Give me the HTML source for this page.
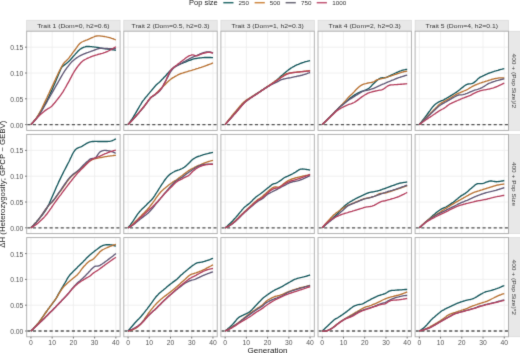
<!DOCTYPE html><html><head><meta charset="utf-8"><style>html,body{margin:0;padding:0;background:#fff;overflow:hidden}svg{display:block}text{font-family:"Liberation Sans", sans-serif}</style></head><body>
<svg width="520" height="353" viewBox="0 0 520 353">
<defs><filter id="bl" x="0" y="0" width="520" height="353" filterUnits="userSpaceOnUse" color-interpolation-filters="sRGB"><feConvolveMatrix order="3" kernelMatrix="1 7 1 7 54 7 1 7 1" divisor="86" edgeMode="duplicate"/></filter></defs><g filter="url(#bl)">
<rect width="520" height="353" fill="#fff"/>
<text x="189.00" y="5.10" font-size="7.49" fill="#1a1a1a" text-anchor="start" textLength="28.80" lengthAdjust="spacingAndGlyphs">Pop size</text>
<line x1="223.3" y1="2.7" x2="233.5" y2="2.7" stroke="#2a6d6d" stroke-width="1.5"/>
<text x="238.60" y="4.90" font-size="5.83" fill="#333" text-anchor="start" textLength="10.50" lengthAdjust="spacingAndGlyphs">250</text>
<line x1="254.6" y1="2.7" x2="264.8" y2="2.7" stroke="#cf8a45" stroke-width="1.5"/>
<text x="269.80" y="4.90" font-size="5.83" fill="#333" text-anchor="start" textLength="10.50" lengthAdjust="spacingAndGlyphs">500</text>
<line x1="285.6" y1="2.7" x2="295.8" y2="2.7" stroke="#6c6a78" stroke-width="1.5"/>
<text x="300.90" y="4.90" font-size="5.83" fill="#333" text-anchor="start" textLength="10.50" lengthAdjust="spacingAndGlyphs">750</text>
<line x1="316.7" y1="2.7" x2="326.9" y2="2.7" stroke="#c25876" stroke-width="1.5"/>
<text x="332.30" y="4.90" font-size="5.83" fill="#333" text-anchor="start" textLength="14.00" lengthAdjust="spacingAndGlyphs">1000</text>
<rect x="26.70" y="20.20" width="93.40" height="11.00" fill="#e8e8e8" stroke="#d4d4d4" stroke-width="0.6"/>
<text x="73.40" y="27.60" font-size="6.20" fill="#383838" text-anchor="middle" textLength="72.39" lengthAdjust="spacingAndGlyphs">Trait 1 (Dom=0, h2=0.6)</text>
<rect x="123.80" y="20.20" width="93.40" height="11.00" fill="#e8e8e8" stroke="#d4d4d4" stroke-width="0.6"/>
<text x="170.50" y="27.60" font-size="6.20" fill="#383838" text-anchor="middle" textLength="77.97" lengthAdjust="spacingAndGlyphs">Trait 2 (Dom=0.5, h2=0.3)</text>
<rect x="220.90" y="20.20" width="93.40" height="11.00" fill="#e8e8e8" stroke="#d4d4d4" stroke-width="0.6"/>
<text x="267.60" y="27.60" font-size="6.20" fill="#383838" text-anchor="middle" textLength="72.39" lengthAdjust="spacingAndGlyphs">Trait 3 (Dom=1, h2=0.3)</text>
<rect x="318.00" y="20.20" width="93.40" height="11.00" fill="#e8e8e8" stroke="#d4d4d4" stroke-width="0.6"/>
<text x="364.70" y="27.60" font-size="6.20" fill="#383838" text-anchor="middle" textLength="72.39" lengthAdjust="spacingAndGlyphs">Trait 4 (Dom=2, h2=0.3)</text>
<rect x="415.10" y="20.20" width="93.40" height="11.00" fill="#e8e8e8" stroke="#d4d4d4" stroke-width="0.6"/>
<text x="461.80" y="27.60" font-size="6.20" fill="#383838" text-anchor="middle" textLength="72.39" lengthAdjust="spacingAndGlyphs">Trait 5 (Dom=4, h2=0.1)</text>
<rect x="508.50" y="31.20" width="12.50" height="99.20" fill="#e8e8e8" stroke="#d4d4d4" stroke-width="0.6"/>
<text transform="translate(512.45,80.80) rotate(90)" x="0" y="0" font-size="6.20" fill="#383838" text-anchor="middle" textLength="54.52" lengthAdjust="spacingAndGlyphs">400 + (Pop Size)/2</text>
<rect x="508.50" y="134.40" width="12.50" height="99.20" fill="#e8e8e8" stroke="#d4d4d4" stroke-width="0.6"/>
<text transform="translate(512.45,184.00) rotate(90)" x="0" y="0" font-size="6.20" fill="#383838" text-anchor="middle" textLength="44.27" lengthAdjust="spacingAndGlyphs">400 + Pop Size</text>
<rect x="508.50" y="237.60" width="12.50" height="99.20" fill="#e8e8e8" stroke="#d4d4d4" stroke-width="0.6"/>
<text transform="translate(512.45,287.20) rotate(90)" x="0" y="0" font-size="6.20" fill="#383838" text-anchor="middle" textLength="55.48" lengthAdjust="spacingAndGlyphs">400 + (Pop Size)*2</text>
<g>
<rect x="26.70" y="31.20" width="93.40" height="99.20" fill="#fff"/>
<line x1="30.95" y1="31.20" x2="30.95" y2="130.40" stroke="#eeeeee" stroke-width="0.9"/>
<line x1="52.17" y1="31.20" x2="52.17" y2="130.40" stroke="#eeeeee" stroke-width="0.9"/>
<line x1="73.40" y1="31.20" x2="73.40" y2="130.40" stroke="#eeeeee" stroke-width="0.9"/>
<line x1="94.63" y1="31.20" x2="94.63" y2="130.40" stroke="#eeeeee" stroke-width="0.9"/>
<line x1="115.85" y1="31.20" x2="115.85" y2="130.40" stroke="#eeeeee" stroke-width="0.9"/>
<line x1="26.70" y1="124.60" x2="120.10" y2="124.60" stroke="#eeeeee" stroke-width="0.9"/>
<line x1="26.70" y1="98.80" x2="120.10" y2="98.80" stroke="#eeeeee" stroke-width="0.9"/>
<line x1="26.70" y1="73.00" x2="120.10" y2="73.00" stroke="#eeeeee" stroke-width="0.9"/>
<line x1="26.70" y1="47.20" x2="120.10" y2="47.20" stroke="#eeeeee" stroke-width="0.9"/>
<line x1="26.70" y1="124.60" x2="120.10" y2="124.60" stroke="#555555" stroke-width="1.3" stroke-dasharray="3.1 2.47" stroke-dashoffset="-0.6"/>
<path d="M30.9,124.6 L32.0,123.4 L33.1,122.2 L34.1,121.0 L35.2,119.6 L36.3,118.2 L37.3,116.8 L38.4,115.2 L39.4,113.6 L40.5,111.9 L41.6,110.2 L42.6,108.3 L43.7,106.5 L44.7,104.5 L45.8,102.6 L46.9,100.6 L47.9,98.5 L49.0,96.4 L50.0,94.2 L51.1,91.9 L52.2,89.5 L53.2,87.1 L54.3,84.6 L55.4,82.1 L56.4,79.5 L57.5,77.0 L58.5,74.5 L59.6,71.9 L60.7,69.2 L61.7,67.3 L62.8,66.3 L63.8,65.4 L64.9,64.6 L66.0,63.8 L67.0,63.0 L68.1,62.1 L69.2,61.1 L70.2,60.0 L71.3,58.8 L72.3,57.5 L73.4,56.3 L74.5,55.1 L75.5,53.9 L76.6,52.7 L77.6,51.6 L78.7,50.5 L79.8,49.6 L80.8,48.8 L81.9,48.2 L83.0,47.6 L84.0,47.1 L85.1,46.8 L86.1,46.5 L87.2,46.5 L88.3,46.5 L89.3,46.5 L90.4,46.6 L91.4,46.7 L92.5,46.8 L93.6,46.9 L94.6,47.1 L95.7,47.2 L96.8,47.4 L97.8,47.5 L98.9,47.7 L99.9,48.0 L101.0,48.2 L102.1,48.4 L103.1,48.5 L104.2,48.7 L105.2,48.8 L106.3,48.9 L107.4,49.0 L108.4,49.1 L109.5,49.3 L110.5,49.4 L111.6,49.6 L112.7,49.8 L113.7,49.9 L114.8,50.1 L115.9,50.3" fill="none" stroke="#16585d" stroke-width="1.35" stroke-linejoin="round" stroke-linecap="butt"/>
<path d="M30.9,124.6 L32.0,123.4 L33.1,122.2 L34.1,120.9 L35.2,119.6 L36.3,118.1 L37.3,116.6 L38.4,115.0 L39.4,113.2 L40.5,111.2 L41.6,109.1 L42.6,106.9 L43.7,104.6 L44.7,102.4 L45.8,100.1 L46.9,97.8 L47.9,95.5 L49.0,93.2 L50.0,90.9 L51.1,88.7 L52.2,86.4 L53.2,84.2 L54.3,81.9 L55.4,79.6 L56.4,77.3 L57.5,75.0 L58.5,72.8 L59.6,70.6 L60.7,68.5 L61.7,66.5 L62.8,64.7 L63.8,63.2 L64.9,62.1 L66.0,61.1 L67.0,60.1 L68.1,58.9 L69.2,57.6 L70.2,56.2 L71.3,54.8 L72.3,53.3 L73.4,51.9 L74.5,50.5 L75.5,49.1 L76.6,47.6 L77.6,46.1 L78.7,44.7 L79.8,43.6 L80.8,42.7 L81.9,42.0 L83.0,41.5 L84.0,41.0 L85.1,40.6 L86.1,40.2 L87.2,39.8 L88.3,39.3 L89.3,38.9 L90.4,38.4 L91.4,37.9 L92.5,37.5 L93.6,37.0 L94.6,36.5 L95.7,36.2 L96.8,36.0 L97.8,35.9 L98.9,35.9 L99.9,35.9 L101.0,36.1 L102.1,36.2 L103.1,36.4 L104.2,36.5 L105.2,36.7 L106.3,36.8 L107.4,37.1 L108.4,37.3 L109.5,37.6 L110.5,37.9 L111.6,38.3 L112.7,38.6 L113.7,39.0 L114.8,39.5 L115.9,40.0" fill="none" stroke="#b87233" stroke-width="1.35" stroke-linejoin="round" stroke-linecap="butt"/>
<path d="M30.9,124.6 L32.0,123.5 L33.1,122.4 L34.1,121.3 L35.2,120.1 L36.3,118.9 L37.3,117.5 L38.4,116.1 L39.4,114.6 L40.5,113.0 L41.6,111.2 L42.6,109.3 L43.7,107.5 L44.7,105.6 L45.8,103.8 L46.9,101.9 L47.9,100.0 L49.0,98.2 L50.0,96.3 L51.1,94.5 L52.2,92.6 L53.2,90.8 L54.3,88.9 L55.4,87.0 L56.4,85.2 L57.5,83.3 L58.5,81.5 L59.6,79.6 L60.7,77.7 L61.7,75.9 L62.8,74.0 L63.8,72.3 L64.9,70.7 L66.0,69.1 L67.0,67.7 L68.1,66.3 L69.2,64.9 L70.2,63.6 L71.3,62.4 L72.3,61.3 L73.4,60.4 L74.5,59.5 L75.5,58.7 L76.6,57.9 L77.6,57.2 L78.7,56.5 L79.8,55.9 L80.8,55.3 L81.9,54.8 L83.0,54.3 L84.0,53.9 L85.1,53.5 L86.1,53.1 L87.2,52.7 L88.3,52.3 L89.3,51.9 L90.4,51.6 L91.4,51.2 L92.5,50.8 L93.6,50.4 L94.6,50.0 L95.7,49.6 L96.8,49.2 L97.8,48.8 L98.9,48.5 L99.9,48.2 L101.0,48.2 L102.1,48.2 L103.1,48.3 L104.2,48.4 L105.2,48.5 L106.3,48.5 L107.4,48.5 L108.4,48.6 L109.5,48.6 L110.5,48.6 L111.6,48.7 L112.7,48.7 L113.7,48.7 L114.8,48.7 L115.9,48.7" fill="none" stroke="#5f5775" stroke-width="1.35" stroke-linejoin="round" stroke-linecap="butt"/>
<path d="M30.9,124.6 L32.0,123.4 L33.1,122.2 L34.1,121.0 L35.2,119.8 L36.3,118.7 L37.3,117.6 L38.4,116.6 L39.4,115.5 L40.5,114.5 L41.6,113.6 L42.6,112.7 L43.7,111.8 L44.7,110.9 L45.8,110.1 L46.9,109.4 L47.9,108.7 L49.0,108.1 L50.0,107.5 L51.1,106.7 L52.2,105.7 L53.2,104.5 L54.3,103.3 L55.4,102.0 L56.4,100.7 L57.5,99.3 L58.5,98.0 L59.6,96.6 L60.7,95.2 L61.7,93.7 L62.8,92.1 L63.8,90.3 L64.9,88.5 L66.0,86.6 L67.0,84.7 L68.1,82.8 L69.2,80.9 L70.2,78.9 L71.3,76.9 L72.3,74.9 L73.4,73.0 L74.5,71.2 L75.5,69.6 L76.6,68.0 L77.6,66.6 L78.7,65.3 L79.8,64.0 L80.8,62.8 L81.9,61.7 L83.0,60.8 L84.0,60.1 L85.1,59.5 L86.1,59.0 L87.2,58.4 L88.3,58.0 L89.3,57.5 L90.4,57.0 L91.4,56.6 L92.5,56.2 L93.6,55.8 L94.6,55.5 L95.7,55.1 L96.8,54.8 L97.8,54.5 L98.9,54.2 L99.9,54.0 L101.0,53.7 L102.1,53.4 L103.1,53.1 L104.2,52.7 L105.2,52.4 L106.3,51.9 L107.4,51.5 L108.4,51.0 L109.5,50.4 L110.5,49.9 L111.6,49.3 L112.7,48.7 L113.7,48.0 L114.8,47.4 L115.9,46.7" fill="none" stroke="#b43f5e" stroke-width="1.35" stroke-linejoin="round" stroke-linecap="butt"/>
<rect x="26.70" y="31.20" width="93.40" height="99.20" fill="none" stroke="#ababab" stroke-width="0.9"/>
</g>
<g>
<rect x="123.80" y="31.20" width="93.40" height="99.20" fill="#fff"/>
<line x1="128.05" y1="31.20" x2="128.05" y2="130.40" stroke="#eeeeee" stroke-width="0.9"/>
<line x1="149.27" y1="31.20" x2="149.27" y2="130.40" stroke="#eeeeee" stroke-width="0.9"/>
<line x1="170.50" y1="31.20" x2="170.50" y2="130.40" stroke="#eeeeee" stroke-width="0.9"/>
<line x1="191.73" y1="31.20" x2="191.73" y2="130.40" stroke="#eeeeee" stroke-width="0.9"/>
<line x1="212.95" y1="31.20" x2="212.95" y2="130.40" stroke="#eeeeee" stroke-width="0.9"/>
<line x1="123.80" y1="124.60" x2="217.20" y2="124.60" stroke="#eeeeee" stroke-width="0.9"/>
<line x1="123.80" y1="98.80" x2="217.20" y2="98.80" stroke="#eeeeee" stroke-width="0.9"/>
<line x1="123.80" y1="73.00" x2="217.20" y2="73.00" stroke="#eeeeee" stroke-width="0.9"/>
<line x1="123.80" y1="47.20" x2="217.20" y2="47.20" stroke="#eeeeee" stroke-width="0.9"/>
<line x1="123.80" y1="124.60" x2="217.20" y2="124.60" stroke="#555555" stroke-width="1.3" stroke-dasharray="3.1 2.47" stroke-dashoffset="-0.6"/>
<path d="M128.0,124.6 L129.1,123.2 L130.2,121.7 L131.2,120.1 L132.3,118.6 L133.4,116.9 L134.4,115.2 L135.5,113.4 L136.5,111.6 L137.6,109.7 L138.7,107.8 L139.7,106.0 L140.8,104.3 L141.8,102.5 L142.9,100.9 L144.0,99.6 L145.0,98.2 L146.1,96.9 L147.2,95.7 L148.2,94.4 L149.3,93.1 L150.3,91.9 L151.4,90.6 L152.5,89.3 L153.5,88.1 L154.6,86.8 L155.6,85.6 L156.7,84.5 L157.8,83.5 L158.8,82.7 L159.9,81.7 L160.9,80.7 L162.0,79.6 L163.1,78.5 L164.1,77.3 L165.2,76.2 L166.3,75.0 L167.3,73.8 L168.4,72.6 L169.4,71.5 L170.5,70.4 L171.6,69.4 L172.6,68.4 L173.7,67.4 L174.7,66.7 L175.8,66.0 L176.9,65.5 L177.9,65.0 L179.0,64.6 L180.1,64.1 L181.1,63.7 L182.2,63.3 L183.2,62.8 L184.3,62.4 L185.4,62.0 L186.4,61.6 L187.5,61.1 L188.5,60.7 L189.6,60.3 L190.7,60.0 L191.7,59.6 L192.8,59.2 L193.9,58.9 L194.9,58.7 L196.0,58.5 L197.0,58.3 L198.1,58.1 L199.2,58.0 L200.2,57.9 L201.3,57.8 L202.3,57.7 L203.4,57.6 L204.5,57.5 L205.5,57.5 L206.6,57.5 L207.6,57.4 L208.7,57.5 L209.8,57.5 L210.8,57.5 L211.9,57.6 L213.0,57.7" fill="none" stroke="#16585d" stroke-width="1.35" stroke-linejoin="round" stroke-linecap="butt"/>
<path d="M128.0,124.6 L129.1,123.5 L130.2,122.3 L131.2,121.2 L132.3,120.0 L133.4,118.9 L134.4,117.7 L135.5,116.5 L136.5,115.3 L137.6,114.1 L138.7,112.9 L139.7,111.6 L140.8,110.4 L141.8,109.1 L142.9,107.8 L144.0,106.5 L145.0,105.2 L146.1,103.7 L147.2,102.2 L148.2,100.7 L149.3,99.3 L150.3,98.0 L151.4,97.0 L152.5,96.2 L153.5,95.6 L154.6,94.9 L155.6,93.9 L156.7,92.8 L157.8,91.8 L158.8,90.7 L159.9,89.6 L160.9,88.6 L162.0,87.5 L163.1,86.5 L164.1,85.4 L165.2,84.4 L166.3,83.3 L167.3,82.3 L168.4,81.3 L169.4,80.3 L170.5,79.5 L171.6,78.6 L172.6,77.9 L173.7,77.3 L174.7,76.7 L175.8,76.1 L176.9,75.5 L177.9,74.9 L179.0,74.4 L180.1,73.9 L181.1,73.5 L182.2,73.2 L183.2,72.9 L184.3,72.5 L185.4,72.2 L186.4,71.9 L187.5,71.6 L188.5,71.2 L189.6,70.9 L190.7,70.6 L191.7,70.3 L192.8,69.9 L193.9,69.6 L194.9,69.3 L196.0,68.9 L197.0,68.6 L198.1,68.3 L199.2,67.9 L200.2,67.6 L201.3,67.3 L202.3,66.9 L203.4,66.6 L204.5,66.2 L205.5,65.8 L206.6,65.4 L207.6,65.0 L208.7,64.6 L209.8,64.2 L210.8,63.8 L211.9,63.3 L213.0,62.9" fill="none" stroke="#b87233" stroke-width="1.35" stroke-linejoin="round" stroke-linecap="butt"/>
<path d="M128.0,124.6 L129.1,123.5 L130.2,122.4 L131.2,121.3 L132.3,120.2 L133.4,119.1 L134.4,117.9 L135.5,116.7 L136.5,115.6 L137.6,114.4 L138.7,113.1 L139.7,111.9 L140.8,110.6 L141.8,109.4 L142.9,108.1 L144.0,106.8 L145.0,105.4 L146.1,103.9 L147.2,102.5 L148.2,101.0 L149.3,99.6 L150.3,98.3 L151.4,97.2 L152.5,96.4 L153.5,95.8 L154.6,95.2 L155.6,94.3 L156.7,93.5 L157.8,92.7 L158.8,91.8 L159.9,90.7 L160.9,89.4 L162.0,87.8 L163.1,85.9 L164.1,83.8 L165.2,81.8 L166.3,79.8 L167.3,77.8 L168.4,75.8 L169.4,73.8 L170.5,72.0 L171.6,70.3 L172.6,69.0 L173.7,68.0 L174.7,67.2 L175.8,66.4 L176.9,65.8 L177.9,65.2 L179.0,64.6 L180.1,64.0 L181.1,63.4 L182.2,62.8 L183.2,62.2 L184.3,61.6 L185.4,61.0 L186.4,60.4 L187.5,59.8 L188.5,59.3 L189.6,58.7 L190.7,58.2 L191.7,57.7 L192.8,57.2 L193.9,56.7 L194.9,56.2 L196.0,55.7 L197.0,55.3 L198.1,54.8 L199.2,54.4 L200.2,53.9 L201.3,53.5 L202.3,53.1 L203.4,52.7 L204.5,52.4 L205.5,52.2 L206.6,52.0 L207.6,51.8 L208.7,51.8 L209.8,52.0 L210.8,52.2 L211.9,52.6 L213.0,53.1" fill="none" stroke="#5f5775" stroke-width="1.35" stroke-linejoin="round" stroke-linecap="butt"/>
<path d="M128.0,124.6 L129.1,123.5 L130.2,122.3 L131.2,121.2 L132.3,120.0 L133.4,118.9 L134.4,117.7 L135.5,116.5 L136.5,115.3 L137.6,114.1 L138.7,112.9 L139.7,111.6 L140.8,110.4 L141.8,109.1 L142.9,107.8 L144.0,106.5 L145.0,105.2 L146.1,103.7 L147.2,102.2 L148.2,100.7 L149.3,99.3 L150.3,98.0 L151.4,96.9 L152.5,96.2 L153.5,95.5 L154.6,94.8 L155.6,94.0 L156.7,93.1 L157.8,92.2 L158.8,91.2 L159.9,90.2 L160.9,89.0 L162.0,87.6 L163.1,85.9 L164.1,83.9 L165.2,81.8 L166.3,79.5 L167.3,77.0 L168.4,74.6 L169.4,72.4 L170.5,70.6 L171.6,69.3 L172.6,68.3 L173.7,67.4 L174.7,66.6 L175.8,65.8 L176.9,65.0 L177.9,64.1 L179.0,63.3 L180.1,62.5 L181.1,61.6 L182.2,60.8 L183.2,60.0 L184.3,59.2 L185.4,58.3 L186.4,57.5 L187.5,56.8 L188.5,56.2 L189.6,55.7 L190.7,55.3 L191.7,54.9 L192.8,54.9 L193.9,55.2 L194.9,55.6 L196.0,55.9 L197.0,55.8 L198.1,55.4 L199.2,55.0 L200.2,54.5 L201.3,54.0 L202.3,53.7 L203.4,53.3 L204.5,53.0 L205.5,52.8 L206.6,52.5 L207.6,52.4 L208.7,52.3 L209.8,52.4 L210.8,52.5 L211.9,52.8 L213.0,53.1" fill="none" stroke="#b43f5e" stroke-width="1.35" stroke-linejoin="round" stroke-linecap="butt"/>
<rect x="123.80" y="31.20" width="93.40" height="99.20" fill="none" stroke="#ababab" stroke-width="0.9"/>
</g>
<g>
<rect x="220.90" y="31.20" width="93.40" height="99.20" fill="#fff"/>
<line x1="225.15" y1="31.20" x2="225.15" y2="130.40" stroke="#eeeeee" stroke-width="0.9"/>
<line x1="246.37" y1="31.20" x2="246.37" y2="130.40" stroke="#eeeeee" stroke-width="0.9"/>
<line x1="267.60" y1="31.20" x2="267.60" y2="130.40" stroke="#eeeeee" stroke-width="0.9"/>
<line x1="288.83" y1="31.20" x2="288.83" y2="130.40" stroke="#eeeeee" stroke-width="0.9"/>
<line x1="310.05" y1="31.20" x2="310.05" y2="130.40" stroke="#eeeeee" stroke-width="0.9"/>
<line x1="220.90" y1="124.60" x2="314.30" y2="124.60" stroke="#eeeeee" stroke-width="0.9"/>
<line x1="220.90" y1="98.80" x2="314.30" y2="98.80" stroke="#eeeeee" stroke-width="0.9"/>
<line x1="220.90" y1="73.00" x2="314.30" y2="73.00" stroke="#eeeeee" stroke-width="0.9"/>
<line x1="220.90" y1="47.20" x2="314.30" y2="47.20" stroke="#eeeeee" stroke-width="0.9"/>
<line x1="220.90" y1="124.60" x2="314.30" y2="124.60" stroke="#555555" stroke-width="1.3" stroke-dasharray="3.1 2.47" stroke-dashoffset="-0.6"/>
<path d="M225.1,124.6 L226.2,123.4 L227.3,122.1 L228.3,120.9 L229.4,119.7 L230.5,118.5 L231.5,117.3 L232.6,116.1 L233.6,114.9 L234.7,113.7 L235.8,112.5 L236.8,111.2 L237.9,110.0 L238.9,108.7 L240.0,107.4 L241.1,106.1 L242.1,104.9 L243.2,103.7 L244.2,102.6 L245.3,101.7 L246.4,100.9 L247.4,100.1 L248.5,99.4 L249.6,98.7 L250.6,98.0 L251.7,97.2 L252.7,96.5 L253.8,95.8 L254.9,95.1 L255.9,94.4 L257.0,93.7 L258.0,93.0 L259.1,92.3 L260.2,91.6 L261.2,90.9 L262.3,90.2 L263.4,89.5 L264.4,88.8 L265.5,88.1 L266.5,87.4 L267.6,86.7 L268.7,86.0 L269.7,85.2 L270.8,84.5 L271.8,83.8 L272.9,83.0 L274.0,82.2 L275.0,81.4 L276.1,80.6 L277.2,79.7 L278.2,78.7 L279.3,77.7 L280.3,76.7 L281.4,75.8 L282.5,74.9 L283.5,74.0 L284.6,73.1 L285.6,72.2 L286.7,71.3 L287.8,70.5 L288.8,69.6 L289.9,68.9 L290.9,68.1 L292.0,67.5 L293.1,66.8 L294.1,66.3 L295.2,65.7 L296.3,65.2 L297.3,64.7 L298.4,64.3 L299.4,63.8 L300.5,63.4 L301.6,63.0 L302.6,62.6 L303.7,62.3 L304.7,61.9 L305.8,61.6 L306.9,61.4 L307.9,61.1 L309.0,60.9 L310.1,60.7" fill="none" stroke="#16585d" stroke-width="1.35" stroke-linejoin="round" stroke-linecap="butt"/>
<path d="M225.1,124.6 L226.2,123.2 L227.3,121.7 L228.3,120.4 L229.4,119.0 L230.5,117.6 L231.5,116.3 L232.6,115.0 L233.6,113.7 L234.7,112.5 L235.8,111.2 L236.8,109.9 L237.9,108.6 L238.9,107.4 L240.0,106.1 L241.1,105.0 L242.1,103.8 L243.2,102.7 L244.2,101.8 L245.3,100.9 L246.4,100.1 L247.4,99.4 L248.5,98.7 L249.6,98.0 L250.6,97.4 L251.7,96.7 L252.7,96.1 L253.8,95.4 L254.9,94.7 L255.9,94.1 L257.0,93.4 L258.0,92.7 L259.1,92.0 L260.2,91.3 L261.2,90.6 L262.3,89.9 L263.4,89.2 L264.4,88.5 L265.5,87.8 L266.5,87.1 L267.6,86.4 L268.7,85.7 L269.7,85.0 L270.8,84.3 L271.8,83.6 L272.9,82.8 L274.0,82.1 L275.0,81.4 L276.1,80.6 L277.2,79.9 L278.2,79.2 L279.3,78.5 L280.3,77.7 L281.4,76.9 L282.5,76.2 L283.5,75.5 L284.6,74.8 L285.6,74.2 L286.7,73.7 L287.8,73.4 L288.8,73.1 L289.9,72.9 L290.9,72.8 L292.0,72.6 L293.1,72.5 L294.1,72.4 L295.2,72.3 L296.3,72.1 L297.3,72.0 L298.4,71.9 L299.4,71.8 L300.5,71.7 L301.6,71.6 L302.6,71.5 L303.7,71.4 L304.7,71.2 L305.8,71.1 L306.9,71.0 L307.9,70.9 L309.0,70.8 L310.1,70.7" fill="none" stroke="#b87233" stroke-width="1.35" stroke-linejoin="round" stroke-linecap="butt"/>
<path d="M225.1,124.6 L226.2,123.4 L227.3,122.1 L228.3,120.9 L229.4,119.7 L230.5,118.5 L231.5,117.3 L232.6,116.1 L233.6,114.9 L234.7,113.7 L235.8,112.5 L236.8,111.2 L237.9,110.0 L238.9,108.7 L240.0,107.5 L241.1,106.2 L242.1,105.0 L243.2,103.9 L244.2,102.8 L245.3,101.8 L246.4,100.9 L247.4,100.0 L248.5,99.2 L249.6,98.5 L250.6,97.7 L251.7,97.0 L252.7,96.4 L253.8,95.7 L254.9,95.0 L255.9,94.3 L257.0,93.6 L258.0,92.9 L259.1,92.2 L260.2,91.5 L261.2,90.7 L262.3,90.0 L263.4,89.3 L264.4,88.6 L265.5,87.9 L266.5,87.3 L267.6,86.7 L268.7,86.1 L269.7,85.5 L270.8,85.0 L271.8,84.5 L272.9,83.9 L274.0,83.4 L275.0,82.9 L276.1,82.3 L277.2,81.8 L278.2,81.3 L279.3,80.7 L280.3,80.1 L281.4,79.6 L282.5,79.3 L283.5,79.0 L284.6,78.8 L285.6,78.6 L286.7,78.4 L287.8,78.2 L288.8,78.0 L289.9,77.8 L290.9,77.6 L292.0,77.3 L293.1,77.1 L294.1,76.9 L295.2,76.7 L296.3,76.5 L297.3,76.2 L298.4,76.0 L299.4,75.8 L300.5,75.5 L301.6,75.3 L302.6,75.0 L303.7,74.7 L304.7,74.3 L305.8,74.0 L306.9,73.6 L307.9,73.2 L309.0,72.9 L310.1,72.5" fill="none" stroke="#5f5775" stroke-width="1.35" stroke-linejoin="round" stroke-linecap="butt"/>
<path d="M225.1,124.6 L226.2,123.4 L227.3,122.2 L228.3,121.0 L229.4,119.8 L230.5,118.6 L231.5,117.5 L232.6,116.3 L233.6,115.1 L234.7,113.9 L235.8,112.7 L236.8,111.5 L237.9,110.3 L238.9,109.0 L240.0,107.8 L241.1,106.5 L242.1,105.3 L243.2,104.1 L244.2,103.0 L245.3,102.0 L246.4,101.1 L247.4,100.3 L248.5,99.5 L249.6,98.8 L250.6,98.0 L251.7,97.3 L252.7,96.7 L253.8,96.0 L254.9,95.3 L255.9,94.6 L257.0,93.9 L258.0,93.2 L259.1,92.5 L260.2,91.8 L261.2,91.0 L262.3,90.3 L263.4,89.6 L264.4,88.9 L265.5,88.2 L266.5,87.5 L267.6,86.8 L268.7,86.1 L269.7,85.4 L270.8,84.6 L271.8,83.9 L272.9,83.2 L274.0,82.5 L275.0,81.8 L276.1,81.1 L277.2,80.4 L278.2,79.7 L279.3,79.0 L280.3,78.3 L281.4,77.5 L282.5,76.8 L283.5,76.1 L284.6,75.5 L285.6,74.9 L286.7,74.4 L287.8,73.9 L288.8,73.5 L289.9,73.2 L290.9,73.0 L292.0,72.8 L293.1,72.6 L294.1,72.5 L295.2,72.4 L296.3,72.3 L297.3,72.2 L298.4,72.1 L299.4,72.0 L300.5,71.9 L301.6,71.7 L302.6,71.6 L303.7,71.5 L304.7,71.4 L305.8,71.3 L306.9,71.2 L307.9,71.1 L309.0,71.0 L310.1,70.9" fill="none" stroke="#b43f5e" stroke-width="1.35" stroke-linejoin="round" stroke-linecap="butt"/>
<rect x="220.90" y="31.20" width="93.40" height="99.20" fill="none" stroke="#ababab" stroke-width="0.9"/>
</g>
<g>
<rect x="318.00" y="31.20" width="93.40" height="99.20" fill="#fff"/>
<line x1="322.25" y1="31.20" x2="322.25" y2="130.40" stroke="#eeeeee" stroke-width="0.9"/>
<line x1="343.47" y1="31.20" x2="343.47" y2="130.40" stroke="#eeeeee" stroke-width="0.9"/>
<line x1="364.70" y1="31.20" x2="364.70" y2="130.40" stroke="#eeeeee" stroke-width="0.9"/>
<line x1="385.93" y1="31.20" x2="385.93" y2="130.40" stroke="#eeeeee" stroke-width="0.9"/>
<line x1="407.15" y1="31.20" x2="407.15" y2="130.40" stroke="#eeeeee" stroke-width="0.9"/>
<line x1="318.00" y1="124.60" x2="411.40" y2="124.60" stroke="#eeeeee" stroke-width="0.9"/>
<line x1="318.00" y1="98.80" x2="411.40" y2="98.80" stroke="#eeeeee" stroke-width="0.9"/>
<line x1="318.00" y1="73.00" x2="411.40" y2="73.00" stroke="#eeeeee" stroke-width="0.9"/>
<line x1="318.00" y1="47.20" x2="411.40" y2="47.20" stroke="#eeeeee" stroke-width="0.9"/>
<line x1="318.00" y1="124.60" x2="411.40" y2="124.60" stroke="#555555" stroke-width="1.3" stroke-dasharray="3.1 2.47" stroke-dashoffset="-0.6"/>
<path d="M322.2,124.6 L323.3,123.6 L324.4,122.5 L325.4,121.5 L326.5,120.4 L327.6,119.3 L328.6,118.3 L329.7,117.2 L330.7,116.1 L331.8,115.1 L332.9,114.0 L333.9,112.9 L335.0,111.8 L336.0,110.7 L337.1,109.7 L338.2,108.6 L339.2,107.5 L340.3,106.5 L341.3,105.6 L342.4,104.7 L343.5,103.8 L344.5,102.9 L345.6,102.0 L346.7,101.1 L347.7,100.2 L348.8,99.2 L349.8,98.4 L350.9,97.6 L352.0,96.9 L353.0,96.1 L354.1,95.4 L355.1,94.6 L356.2,94.0 L357.3,93.4 L358.3,92.9 L359.4,92.4 L360.5,91.9 L361.5,91.5 L362.6,91.1 L363.6,90.8 L364.7,90.3 L365.8,89.9 L366.8,89.5 L367.9,88.9 L368.9,88.2 L370.0,87.3 L371.1,86.3 L372.1,85.1 L373.2,84.0 L374.3,83.0 L375.3,82.0 L376.4,81.0 L377.4,80.1 L378.5,79.3 L379.6,78.5 L380.6,78.0 L381.7,77.8 L382.7,77.7 L383.8,77.8 L384.9,77.7 L385.9,77.6 L387.0,77.2 L388.0,76.7 L389.1,76.1 L390.2,75.6 L391.2,75.0 L392.3,74.5 L393.4,74.0 L394.4,73.5 L395.5,73.0 L396.5,72.5 L397.6,72.1 L398.7,71.6 L399.7,71.2 L400.8,70.8 L401.8,70.4 L402.9,70.1 L404.0,69.8 L405.0,69.7 L406.1,69.5 L407.2,69.4" fill="none" stroke="#16585d" stroke-width="1.35" stroke-linejoin="round" stroke-linecap="butt"/>
<path d="M322.2,124.6 L323.3,123.6 L324.4,122.5 L325.4,121.5 L326.5,120.4 L327.6,119.3 L328.6,118.3 L329.7,117.2 L330.7,116.1 L331.8,115.1 L332.9,114.0 L333.9,112.9 L335.0,111.8 L336.0,110.7 L337.1,109.7 L338.2,108.6 L339.2,107.5 L340.3,106.4 L341.3,105.3 L342.4,104.2 L343.5,103.0 L344.5,101.9 L345.6,100.7 L346.7,99.4 L347.7,98.1 L348.8,96.9 L349.8,95.9 L350.9,95.0 L352.0,94.1 L353.0,93.1 L354.1,91.9 L355.1,90.7 L356.2,89.6 L357.3,88.5 L358.3,87.5 L359.4,86.6 L360.5,85.8 L361.5,85.1 L362.6,84.6 L363.6,84.2 L364.7,83.8 L365.8,83.6 L366.8,83.3 L367.9,83.0 L368.9,82.8 L370.0,82.6 L371.1,82.5 L372.1,82.3 L373.2,82.0 L374.3,81.5 L375.3,80.8 L376.4,80.1 L377.4,79.6 L378.5,79.4 L379.6,79.1 L380.6,78.9 L381.7,78.6 L382.7,78.4 L383.8,78.1 L384.9,77.8 L385.9,77.4 L387.0,77.1 L388.0,76.8 L389.1,76.4 L390.2,76.1 L391.2,75.8 L392.3,75.4 L393.4,75.1 L394.4,74.7 L395.5,74.4 L396.5,74.0 L397.6,73.6 L398.7,73.3 L399.7,72.9 L400.8,72.6 L401.8,72.2 L402.9,72.0 L404.0,71.7 L405.0,71.5 L406.1,71.4 L407.2,71.2" fill="none" stroke="#b87233" stroke-width="1.35" stroke-linejoin="round" stroke-linecap="butt"/>
<path d="M322.2,124.6 L323.3,123.6 L324.4,122.5 L325.4,121.5 L326.5,120.4 L327.6,119.3 L328.6,118.3 L329.7,117.2 L330.7,116.1 L331.8,115.1 L332.9,114.0 L333.9,112.9 L335.0,111.8 L336.0,110.7 L337.1,109.7 L338.2,108.6 L339.2,107.5 L340.3,106.5 L341.3,105.7 L342.4,104.9 L343.5,104.1 L344.5,103.3 L345.6,102.5 L346.7,101.6 L347.7,100.8 L348.8,100.0 L349.8,99.3 L350.9,98.6 L352.0,97.9 L353.0,97.3 L354.1,96.6 L355.1,95.9 L356.2,95.2 L357.3,94.6 L358.3,93.9 L359.4,93.3 L360.5,92.6 L361.5,92.0 L362.6,91.4 L363.6,90.9 L364.7,90.6 L365.8,90.5 L366.8,90.3 L367.9,90.1 L368.9,89.9 L370.0,89.5 L371.1,89.2 L372.1,88.8 L373.2,88.5 L374.3,88.1 L375.3,87.6 L376.4,87.1 L377.4,86.6 L378.5,86.1 L379.6,85.6 L380.6,85.1 L381.7,84.7 L382.7,84.2 L383.8,83.8 L384.9,83.3 L385.9,82.9 L387.0,82.4 L388.0,82.0 L389.1,81.5 L390.2,81.1 L391.2,80.7 L392.3,80.2 L393.4,79.8 L394.4,79.4 L395.5,78.9 L396.5,78.5 L397.6,78.1 L398.7,77.7 L399.7,77.4 L400.8,77.0 L401.8,76.7 L402.9,76.3 L404.0,76.0 L405.0,75.7 L406.1,75.4 L407.2,75.1" fill="none" stroke="#5f5775" stroke-width="1.35" stroke-linejoin="round" stroke-linecap="butt"/>
<path d="M322.2,124.6 L323.3,123.6 L324.4,122.6 L325.4,121.6 L326.5,120.5 L327.6,119.5 L328.6,118.5 L329.7,117.5 L330.7,116.5 L331.8,115.4 L332.9,114.4 L333.9,113.4 L335.0,112.4 L336.0,111.4 L337.1,110.6 L338.2,109.9 L339.2,109.2 L340.3,108.6 L341.3,108.0 L342.4,107.4 L343.5,106.8 L344.5,106.3 L345.6,105.8 L346.7,105.3 L347.7,104.9 L348.8,104.4 L349.8,104.1 L350.9,103.8 L352.0,103.4 L353.0,103.0 L354.1,102.5 L355.1,101.9 L356.2,101.1 L357.3,100.4 L358.3,99.6 L359.4,98.7 L360.5,97.9 L361.5,97.1 L362.6,96.4 L363.6,95.7 L364.7,95.0 L365.8,94.4 L366.8,93.8 L367.9,93.2 L368.9,92.8 L370.0,92.4 L371.1,92.1 L372.1,91.8 L373.2,91.5 L374.3,91.3 L375.3,91.0 L376.4,90.8 L377.4,90.6 L378.5,90.4 L379.6,90.2 L380.6,90.1 L381.7,89.8 L382.7,89.4 L383.8,88.8 L384.9,88.1 L385.9,87.2 L387.0,86.5 L388.0,85.8 L389.1,85.3 L390.2,85.0 L391.2,84.9 L392.3,84.9 L393.4,84.8 L394.4,84.7 L395.5,84.6 L396.5,84.6 L397.6,84.5 L398.7,84.4 L399.7,84.3 L400.8,84.2 L401.8,84.2 L402.9,84.1 L404.0,84.0 L405.0,83.9 L406.1,83.8 L407.2,83.7" fill="none" stroke="#b43f5e" stroke-width="1.35" stroke-linejoin="round" stroke-linecap="butt"/>
<rect x="318.00" y="31.20" width="93.40" height="99.20" fill="none" stroke="#ababab" stroke-width="0.9"/>
</g>
<g>
<rect x="415.10" y="31.20" width="93.40" height="99.20" fill="#fff"/>
<line x1="419.35" y1="31.20" x2="419.35" y2="130.40" stroke="#eeeeee" stroke-width="0.9"/>
<line x1="440.57" y1="31.20" x2="440.57" y2="130.40" stroke="#eeeeee" stroke-width="0.9"/>
<line x1="461.80" y1="31.20" x2="461.80" y2="130.40" stroke="#eeeeee" stroke-width="0.9"/>
<line x1="483.03" y1="31.20" x2="483.03" y2="130.40" stroke="#eeeeee" stroke-width="0.9"/>
<line x1="504.25" y1="31.20" x2="504.25" y2="130.40" stroke="#eeeeee" stroke-width="0.9"/>
<line x1="415.10" y1="124.60" x2="508.50" y2="124.60" stroke="#eeeeee" stroke-width="0.9"/>
<line x1="415.10" y1="98.80" x2="508.50" y2="98.80" stroke="#eeeeee" stroke-width="0.9"/>
<line x1="415.10" y1="73.00" x2="508.50" y2="73.00" stroke="#eeeeee" stroke-width="0.9"/>
<line x1="415.10" y1="47.20" x2="508.50" y2="47.20" stroke="#eeeeee" stroke-width="0.9"/>
<line x1="415.10" y1="124.60" x2="508.50" y2="124.60" stroke="#555555" stroke-width="1.3" stroke-dasharray="3.1 2.47" stroke-dashoffset="-0.6"/>
<path d="M419.3,124.6 L420.4,123.2 L421.5,121.8 L422.5,120.5 L423.6,119.1 L424.7,117.7 L425.7,116.3 L426.8,114.9 L427.8,113.5 L428.9,112.0 L430.0,110.6 L431.0,109.1 L432.1,107.7 L433.1,106.4 L434.2,105.3 L435.3,104.3 L436.3,103.5 L437.4,102.8 L438.4,102.2 L439.5,101.7 L440.6,101.2 L441.6,100.7 L442.7,100.3 L443.8,99.8 L444.8,99.2 L445.9,98.6 L446.9,98.0 L448.0,97.4 L449.1,96.7 L450.1,96.1 L451.2,95.4 L452.2,94.8 L453.3,94.1 L454.4,93.5 L455.4,92.8 L456.5,92.1 L457.6,91.3 L458.6,90.5 L459.7,89.7 L460.7,88.8 L461.8,87.9 L462.9,87.1 L463.9,86.3 L465.0,85.5 L466.0,84.8 L467.1,84.3 L468.2,84.0 L469.2,83.9 L470.3,83.8 L471.4,83.7 L472.4,83.4 L473.5,82.9 L474.5,82.1 L475.6,81.2 L476.7,80.2 L477.7,79.1 L478.8,78.2 L479.8,77.4 L480.9,76.8 L482.0,76.3 L483.0,75.8 L484.1,75.3 L485.1,74.8 L486.2,74.3 L487.3,73.9 L488.3,73.4 L489.4,73.0 L490.5,72.7 L491.5,72.3 L492.6,71.9 L493.6,71.6 L494.7,71.2 L495.8,70.9 L496.8,70.6 L497.9,70.3 L498.9,70.0 L500.0,69.7 L501.1,69.4 L502.1,69.2 L503.2,68.9 L504.3,68.7" fill="none" stroke="#16585d" stroke-width="1.35" stroke-linejoin="round" stroke-linecap="butt"/>
<path d="M419.3,124.6 L420.4,123.5 L421.5,122.5 L422.5,121.4 L423.6,120.3 L424.7,119.2 L425.7,118.2 L426.8,117.1 L427.8,116.0 L428.9,114.9 L430.0,113.9 L431.0,112.8 L432.1,111.7 L433.1,110.6 L434.2,109.6 L435.3,108.5 L436.3,107.4 L437.4,106.4 L438.4,105.3 L439.5,104.3 L440.6,103.6 L441.6,102.9 L442.7,102.3 L443.8,101.7 L444.8,101.1 L445.9,100.5 L446.9,99.9 L448.0,99.3 L449.1,98.7 L450.1,98.1 L451.2,97.5 L452.2,96.8 L453.3,96.1 L454.4,95.5 L455.4,94.8 L456.5,94.2 L457.6,93.7 L458.6,93.2 L459.7,92.8 L460.7,92.3 L461.8,91.9 L462.9,91.5 L463.9,91.0 L465.0,90.5 L466.0,90.1 L467.1,89.6 L468.2,89.0 L469.2,88.3 L470.3,87.7 L471.4,87.0 L472.4,86.4 L473.5,85.9 L474.5,85.4 L475.6,84.9 L476.7,84.5 L477.7,84.0 L478.8,83.6 L479.8,83.2 L480.9,82.9 L482.0,82.5 L483.0,82.1 L484.1,81.8 L485.1,81.5 L486.2,81.1 L487.3,80.8 L488.3,80.5 L489.4,80.1 L490.5,79.8 L491.5,79.5 L492.6,79.2 L493.6,79.0 L494.7,78.7 L495.8,78.5 L496.8,78.3 L497.9,78.1 L498.9,77.9 L500.0,77.9 L501.1,77.9 L502.1,77.9 L503.2,77.9 L504.3,78.0" fill="none" stroke="#b87233" stroke-width="1.35" stroke-linejoin="round" stroke-linecap="butt"/>
<path d="M419.3,124.6 L420.4,123.6 L421.5,122.5 L422.5,121.5 L423.6,120.5 L424.7,119.4 L425.7,118.4 L426.8,117.4 L427.8,116.4 L428.9,115.5 L430.0,114.5 L431.0,113.5 L432.1,112.5 L433.1,111.5 L434.2,110.5 L435.3,109.5 L436.3,108.5 L437.4,107.5 L438.4,106.5 L439.5,105.7 L440.6,105.0 L441.6,104.3 L442.7,103.7 L443.8,103.2 L444.8,102.5 L445.9,101.9 L446.9,101.3 L448.0,100.7 L449.1,100.1 L450.1,99.4 L451.2,98.8 L452.2,98.2 L453.3,97.6 L454.4,97.0 L455.4,96.4 L456.5,95.9 L457.6,95.4 L458.6,95.0 L459.7,94.9 L460.7,94.8 L461.8,94.8 L462.9,94.7 L463.9,94.4 L465.0,94.1 L466.0,93.7 L467.1,93.3 L468.2,92.8 L469.2,92.4 L470.3,91.9 L471.4,91.5 L472.4,91.0 L473.5,90.6 L474.5,90.2 L475.6,89.9 L476.7,89.6 L477.7,89.3 L478.8,88.9 L479.8,88.6 L480.9,88.1 L482.0,87.6 L483.0,87.0 L484.1,86.4 L485.1,85.7 L486.2,85.0 L487.3,84.3 L488.3,83.7 L489.4,83.2 L490.5,82.8 L491.5,82.4 L492.6,82.0 L493.6,81.6 L494.7,81.3 L495.8,80.9 L496.8,80.6 L497.9,80.4 L498.9,80.1 L500.0,79.8 L501.1,79.5 L502.1,79.3 L503.2,79.0 L504.3,78.8" fill="none" stroke="#5f5775" stroke-width="1.35" stroke-linejoin="round" stroke-linecap="butt"/>
<path d="M419.3,124.6 L420.4,123.8 L421.5,123.0 L422.5,122.2 L423.6,121.5 L424.7,120.7 L425.7,120.0 L426.8,119.3 L427.8,118.6 L428.9,117.8 L430.0,117.1 L431.0,116.4 L432.1,115.7 L433.1,115.0 L434.2,114.3 L435.3,113.6 L436.3,112.8 L437.4,112.1 L438.4,111.4 L439.5,110.7 L440.6,110.1 L441.6,109.5 L442.7,109.0 L443.8,108.4 L444.8,107.7 L445.9,107.0 L446.9,106.1 L448.0,105.3 L449.1,104.5 L450.1,103.8 L451.2,103.3 L452.2,102.8 L453.3,102.3 L454.4,101.9 L455.4,101.4 L456.5,101.0 L457.6,100.5 L458.6,100.0 L459.7,99.6 L460.7,99.1 L461.8,98.7 L462.9,98.2 L463.9,97.8 L465.0,97.3 L466.0,97.0 L467.1,96.6 L468.2,96.2 L469.2,95.8 L470.3,95.4 L471.4,94.8 L472.4,94.2 L473.5,93.6 L474.5,93.1 L475.6,92.6 L476.7,92.1 L477.7,91.7 L478.8,91.3 L479.8,90.9 L480.9,90.6 L482.0,90.3 L483.0,90.1 L484.1,89.9 L485.1,89.8 L486.2,89.6 L487.3,89.4 L488.3,89.2 L489.4,89.0 L490.5,88.7 L491.5,88.4 L492.6,88.1 L493.6,87.8 L494.7,87.4 L495.8,87.0 L496.8,86.6 L497.9,86.2 L498.9,85.7 L500.0,85.2 L501.1,84.7 L502.1,84.2 L503.2,83.6 L504.3,83.0" fill="none" stroke="#b43f5e" stroke-width="1.35" stroke-linejoin="round" stroke-linecap="butt"/>
<rect x="415.10" y="31.20" width="93.40" height="99.20" fill="none" stroke="#ababab" stroke-width="0.9"/>
</g>
<g>
<rect x="26.70" y="134.40" width="93.40" height="99.20" fill="#fff"/>
<line x1="30.95" y1="134.40" x2="30.95" y2="233.60" stroke="#eeeeee" stroke-width="0.9"/>
<line x1="52.17" y1="134.40" x2="52.17" y2="233.60" stroke="#eeeeee" stroke-width="0.9"/>
<line x1="73.40" y1="134.40" x2="73.40" y2="233.60" stroke="#eeeeee" stroke-width="0.9"/>
<line x1="94.63" y1="134.40" x2="94.63" y2="233.60" stroke="#eeeeee" stroke-width="0.9"/>
<line x1="115.85" y1="134.40" x2="115.85" y2="233.60" stroke="#eeeeee" stroke-width="0.9"/>
<line x1="26.70" y1="227.80" x2="120.10" y2="227.80" stroke="#eeeeee" stroke-width="0.9"/>
<line x1="26.70" y1="202.00" x2="120.10" y2="202.00" stroke="#eeeeee" stroke-width="0.9"/>
<line x1="26.70" y1="176.20" x2="120.10" y2="176.20" stroke="#eeeeee" stroke-width="0.9"/>
<line x1="26.70" y1="150.40" x2="120.10" y2="150.40" stroke="#eeeeee" stroke-width="0.9"/>
<line x1="26.70" y1="227.80" x2="120.10" y2="227.80" stroke="#555555" stroke-width="1.3" stroke-dasharray="3.1 2.47" stroke-dashoffset="-0.6"/>
<path d="M30.9,227.8 L32.0,226.7 L33.1,225.6 L34.1,224.5 L35.2,223.3 L36.3,222.1 L37.3,220.8 L38.4,219.6 L39.4,218.3 L40.5,217.0 L41.6,215.8 L42.6,214.5 L43.7,213.1 L44.7,211.6 L45.8,210.0 L46.9,208.2 L47.9,206.2 L49.0,204.0 L50.0,201.7 L51.1,199.3 L52.2,196.8 L53.2,194.4 L54.3,191.9 L55.4,189.4 L56.4,187.0 L57.5,184.7 L58.5,182.4 L59.6,180.1 L60.7,177.9 L61.7,175.8 L62.8,173.6 L63.8,171.5 L64.9,169.5 L66.0,167.4 L67.0,165.4 L68.1,163.3 L69.2,161.2 L70.2,158.9 L71.3,156.7 L72.3,154.5 L73.4,152.5 L74.5,150.8 L75.5,149.5 L76.6,148.7 L77.6,148.1 L78.7,147.6 L79.8,147.2 L80.8,146.8 L81.9,146.3 L83.0,145.7 L84.0,145.0 L85.1,144.4 L86.1,143.7 L87.2,143.1 L88.3,142.6 L89.3,142.2 L90.4,141.9 L91.4,141.7 L92.5,141.5 L93.6,141.5 L94.6,141.4 L95.7,141.4 L96.8,141.4 L97.8,141.5 L98.9,141.5 L99.9,141.5 L101.0,141.5 L102.1,141.5 L103.1,141.5 L104.2,141.5 L105.2,141.5 L106.3,141.5 L107.4,141.5 L108.4,141.4 L109.5,141.4 L110.5,141.2 L111.6,140.9 L112.7,140.5 L113.7,140.0 L114.8,139.4 L115.9,138.8" fill="none" stroke="#16585d" stroke-width="1.35" stroke-linejoin="round" stroke-linecap="butt"/>
<path d="M30.9,227.8 L32.0,226.7 L33.1,225.7 L34.1,224.5 L35.2,223.3 L36.3,222.1 L37.3,220.9 L38.4,219.6 L39.4,218.3 L40.5,216.9 L41.6,215.4 L42.6,213.9 L43.7,212.3 L44.7,210.8 L45.8,209.2 L46.9,207.8 L47.9,206.4 L49.0,205.1 L50.0,204.0 L51.1,203.0 L52.2,201.9 L53.2,200.7 L54.3,199.4 L55.4,198.0 L56.4,196.6 L57.5,195.1 L58.5,193.7 L59.6,192.2 L60.7,190.8 L61.7,189.3 L62.8,187.8 L63.8,186.3 L64.9,184.8 L66.0,183.2 L67.0,181.7 L68.1,180.3 L69.2,178.9 L70.2,177.7 L71.3,176.6 L72.3,175.6 L73.4,174.7 L74.5,173.8 L75.5,173.0 L76.6,172.1 L77.6,171.3 L78.7,170.4 L79.8,169.5 L80.8,168.6 L81.9,167.7 L83.0,166.8 L84.0,165.9 L85.1,165.0 L86.1,164.1 L87.2,163.2 L88.3,162.3 L89.3,161.5 L90.4,160.7 L91.4,160.1 L92.5,159.5 L93.6,159.1 L94.6,158.8 L95.7,158.6 L96.8,158.4 L97.8,158.1 L98.9,157.9 L99.9,157.7 L101.0,157.5 L102.1,157.3 L103.1,157.1 L104.2,156.9 L105.2,156.7 L106.3,156.6 L107.4,156.4 L108.4,156.2 L109.5,156.1 L110.5,155.9 L111.6,155.8 L112.7,155.7 L113.7,155.5 L114.8,155.4 L115.9,155.3" fill="none" stroke="#b87233" stroke-width="1.35" stroke-linejoin="round" stroke-linecap="butt"/>
<path d="M30.9,227.8 L32.0,226.8 L33.1,225.7 L34.1,224.5 L35.2,223.4 L36.3,222.2 L37.3,220.9 L38.4,219.6 L39.4,218.3 L40.5,216.9 L41.6,215.4 L42.6,213.8 L43.7,212.2 L44.7,210.6 L45.8,209.1 L46.9,207.6 L47.9,206.2 L49.0,204.9 L50.0,203.8 L51.1,202.8 L52.2,201.7 L53.2,200.5 L54.3,199.2 L55.4,197.7 L56.4,196.1 L57.5,194.6 L58.5,193.1 L59.6,191.6 L60.7,190.1 L61.7,188.6 L62.8,187.0 L63.8,185.5 L64.9,184.0 L66.0,182.5 L67.0,180.9 L68.1,179.4 L69.2,178.1 L70.2,177.0 L71.3,176.0 L72.3,175.1 L73.4,174.1 L74.5,173.3 L75.5,172.5 L76.6,171.8 L77.6,171.0 L78.7,170.1 L79.8,169.0 L80.8,167.9 L81.9,166.7 L83.0,165.6 L84.0,164.6 L85.1,163.6 L86.1,162.6 L87.2,161.6 L88.3,160.7 L89.3,159.7 L90.4,158.9 L91.4,158.6 L92.5,158.4 L93.6,158.4 L94.6,158.2 L95.7,157.6 L96.8,156.3 L97.8,154.6 L98.9,153.1 L99.9,152.0 L101.0,151.4 L102.1,150.9 L103.1,150.6 L104.2,150.4 L105.2,150.4 L106.3,150.5 L107.4,150.6 L108.4,150.8 L109.5,151.0 L110.5,151.2 L111.6,151.6 L112.7,151.9 L113.7,152.3 L114.8,152.8 L115.9,153.2" fill="none" stroke="#5f5775" stroke-width="1.35" stroke-linejoin="round" stroke-linecap="butt"/>
<path d="M30.9,227.8 L32.0,227.2 L33.1,226.6 L34.1,225.9 L35.2,225.2 L36.3,224.4 L37.3,223.6 L38.4,222.7 L39.4,221.8 L40.5,220.8 L41.6,219.8 L42.6,218.8 L43.7,217.7 L44.7,216.6 L45.8,215.3 L46.9,214.0 L47.9,212.6 L49.0,211.2 L50.0,209.6 L51.1,208.1 L52.2,206.5 L53.2,205.0 L54.3,203.4 L55.4,201.9 L56.4,200.5 L57.5,199.0 L58.5,197.6 L59.6,196.2 L60.7,194.8 L61.7,193.3 L62.8,191.9 L63.8,190.5 L64.9,189.1 L66.0,187.7 L67.0,186.3 L68.1,184.9 L69.2,183.5 L70.2,182.2 L71.3,180.8 L72.3,179.5 L73.4,178.1 L74.5,176.8 L75.5,175.6 L76.6,174.3 L77.6,173.1 L78.7,172.0 L79.8,170.9 L80.8,169.8 L81.9,168.8 L83.0,167.8 L84.0,166.7 L85.1,165.6 L86.1,164.5 L87.2,163.4 L88.3,162.3 L89.3,161.3 L90.4,160.4 L91.4,159.7 L92.5,159.1 L93.6,158.6 L94.6,158.2 L95.7,157.8 L96.8,157.5 L97.8,157.0 L98.9,156.5 L99.9,156.1 L101.0,155.6 L102.1,155.1 L103.1,154.6 L104.2,154.2 L105.2,153.7 L106.3,153.3 L107.4,152.8 L108.4,152.4 L109.5,152.0 L110.5,151.7 L111.6,151.3 L112.7,151.0 L113.7,150.7 L114.8,150.4 L115.9,150.1" fill="none" stroke="#b43f5e" stroke-width="1.35" stroke-linejoin="round" stroke-linecap="butt"/>
<rect x="26.70" y="134.40" width="93.40" height="99.20" fill="none" stroke="#ababab" stroke-width="0.9"/>
</g>
<g>
<rect x="123.80" y="134.40" width="93.40" height="99.20" fill="#fff"/>
<line x1="128.05" y1="134.40" x2="128.05" y2="233.60" stroke="#eeeeee" stroke-width="0.9"/>
<line x1="149.27" y1="134.40" x2="149.27" y2="233.60" stroke="#eeeeee" stroke-width="0.9"/>
<line x1="170.50" y1="134.40" x2="170.50" y2="233.60" stroke="#eeeeee" stroke-width="0.9"/>
<line x1="191.73" y1="134.40" x2="191.73" y2="233.60" stroke="#eeeeee" stroke-width="0.9"/>
<line x1="212.95" y1="134.40" x2="212.95" y2="233.60" stroke="#eeeeee" stroke-width="0.9"/>
<line x1="123.80" y1="227.80" x2="217.20" y2="227.80" stroke="#eeeeee" stroke-width="0.9"/>
<line x1="123.80" y1="202.00" x2="217.20" y2="202.00" stroke="#eeeeee" stroke-width="0.9"/>
<line x1="123.80" y1="176.20" x2="217.20" y2="176.20" stroke="#eeeeee" stroke-width="0.9"/>
<line x1="123.80" y1="150.40" x2="217.20" y2="150.40" stroke="#eeeeee" stroke-width="0.9"/>
<line x1="123.80" y1="227.80" x2="217.20" y2="227.80" stroke="#555555" stroke-width="1.3" stroke-dasharray="3.1 2.47" stroke-dashoffset="-0.6"/>
<path d="M128.0,227.8 L129.1,226.5 L130.2,225.1 L131.2,223.7 L132.3,222.2 L133.4,220.6 L134.4,219.0 L135.5,217.3 L136.5,215.8 L137.6,214.2 L138.7,212.8 L139.7,211.5 L140.8,210.4 L141.8,209.3 L142.9,208.3 L144.0,207.3 L145.0,206.2 L146.1,205.2 L147.2,204.1 L148.2,203.1 L149.3,202.1 L150.3,201.1 L151.4,200.0 L152.5,198.8 L153.5,197.4 L154.6,195.8 L155.6,194.2 L156.7,192.5 L157.8,190.8 L158.8,189.2 L159.9,187.5 L160.9,185.9 L162.0,184.2 L163.1,182.6 L164.1,181.0 L165.2,179.5 L166.3,178.1 L167.3,176.8 L168.4,175.7 L169.4,174.7 L170.5,173.9 L171.6,173.2 L172.6,172.5 L173.7,172.0 L174.7,171.4 L175.8,170.9 L176.9,170.5 L177.9,170.1 L179.0,169.8 L180.1,169.4 L181.1,169.0 L182.2,168.5 L183.2,167.9 L184.3,167.2 L185.4,166.4 L186.4,165.5 L187.5,164.6 L188.5,163.6 L189.6,162.5 L190.7,161.3 L191.7,160.3 L192.8,159.3 L193.9,158.6 L194.9,158.0 L196.0,157.4 L197.0,156.9 L198.1,156.5 L199.2,156.1 L200.2,155.8 L201.3,155.4 L202.3,155.1 L203.4,154.7 L204.5,154.4 L205.5,154.1 L206.6,153.8 L207.6,153.6 L208.7,153.3 L209.8,153.0 L210.8,152.8 L211.9,152.6 L213.0,152.4" fill="none" stroke="#16585d" stroke-width="1.35" stroke-linejoin="round" stroke-linecap="butt"/>
<path d="M128.0,227.8 L129.1,227.0 L130.2,226.3 L131.2,225.4 L132.3,224.6 L133.4,223.6 L134.4,222.6 L135.5,221.5 L136.5,220.4 L137.6,219.4 L138.7,218.3 L139.7,217.2 L140.8,216.2 L141.8,215.1 L142.9,214.0 L144.0,213.0 L145.0,211.9 L146.1,210.8 L147.2,209.7 L148.2,208.5 L149.3,207.2 L150.3,205.9 L151.4,204.5 L152.5,203.1 L153.5,201.7 L154.6,200.3 L155.6,198.7 L156.7,197.2 L157.8,195.7 L158.8,194.3 L159.9,193.0 L160.9,191.8 L162.0,190.7 L163.1,189.7 L164.1,188.8 L165.2,187.9 L166.3,187.0 L167.3,186.2 L168.4,185.3 L169.4,184.5 L170.5,183.7 L171.6,183.0 L172.6,182.2 L173.7,181.6 L174.7,180.9 L175.8,180.3 L176.9,179.5 L177.9,178.7 L179.0,177.9 L180.1,177.1 L181.1,176.3 L182.2,175.5 L183.2,174.7 L184.3,173.9 L185.4,173.1 L186.4,172.2 L187.5,171.5 L188.5,170.7 L189.6,170.1 L190.7,169.4 L191.7,168.9 L192.8,168.3 L193.9,167.8 L194.9,167.2 L196.0,166.7 L197.0,166.2 L198.1,165.7 L199.2,165.2 L200.2,164.8 L201.3,164.3 L202.3,163.8 L203.4,163.4 L204.5,163.0 L205.5,162.6 L206.6,162.2 L207.6,161.8 L208.7,161.5 L209.8,161.2 L210.8,160.9 L211.9,160.6 L213.0,160.3" fill="none" stroke="#b87233" stroke-width="1.35" stroke-linejoin="round" stroke-linecap="butt"/>
<path d="M128.0,227.8 L129.1,227.3 L130.2,226.7 L131.2,226.1 L132.3,225.5 L133.4,224.7 L134.4,223.9 L135.5,223.1 L136.5,222.2 L137.6,221.3 L138.7,220.4 L139.7,219.5 L140.8,218.7 L141.8,217.9 L142.9,217.1 L144.0,216.3 L145.0,215.5 L146.1,214.7 L147.2,213.8 L148.2,212.9 L149.3,211.8 L150.3,210.7 L151.4,209.5 L152.5,208.3 L153.5,207.0 L154.6,205.7 L155.6,204.4 L156.7,203.1 L157.8,201.8 L158.8,200.5 L159.9,199.2 L160.9,197.9 L162.0,196.6 L163.1,195.3 L164.1,194.0 L165.2,192.7 L166.3,191.4 L167.3,190.2 L168.4,188.9 L169.4,187.7 L170.5,186.5 L171.6,185.3 L172.6,184.2 L173.7,183.1 L174.7,182.1 L175.8,181.3 L176.9,180.5 L177.9,179.8 L179.0,179.2 L180.1,178.5 L181.1,177.9 L182.2,177.2 L183.2,176.4 L184.3,175.6 L185.4,174.8 L186.4,173.9 L187.5,173.2 L188.5,172.4 L189.6,171.7 L190.7,171.0 L191.7,170.2 L192.8,169.5 L193.9,168.8 L194.9,168.1 L196.0,167.5 L197.0,166.9 L198.1,166.3 L199.2,165.8 L200.2,165.4 L201.3,165.0 L202.3,164.8 L203.4,164.6 L204.5,164.4 L205.5,164.3 L206.6,164.2 L207.6,164.2 L208.7,164.1 L209.8,164.1 L210.8,164.1 L211.9,164.1 L213.0,164.2" fill="none" stroke="#5f5775" stroke-width="1.35" stroke-linejoin="round" stroke-linecap="butt"/>
<path d="M128.0,227.8 L129.1,227.2 L130.2,226.6 L131.2,225.9 L132.3,225.2 L133.4,224.3 L134.4,223.4 L135.5,222.4 L136.5,221.3 L137.6,220.3 L138.7,219.3 L139.7,218.3 L140.8,217.3 L141.8,216.4 L142.9,215.4 L144.0,214.4 L145.0,213.5 L146.1,212.5 L147.2,211.5 L148.2,210.6 L149.3,209.6 L150.3,208.6 L151.4,207.7 L152.5,206.7 L153.5,205.7 L154.6,204.7 L155.6,203.6 L156.7,202.5 L157.8,201.4 L158.8,200.3 L159.9,199.1 L160.9,197.9 L162.0,196.7 L163.1,195.4 L164.1,194.2 L165.2,193.1 L166.3,192.0 L167.3,190.9 L168.4,189.9 L169.4,188.8 L170.5,187.8 L171.6,186.7 L172.6,185.7 L173.7,184.6 L174.7,183.6 L175.8,182.6 L176.9,181.7 L177.9,180.9 L179.0,180.3 L180.1,179.8 L181.1,179.3 L182.2,178.8 L183.2,178.2 L184.3,177.7 L185.4,177.2 L186.4,176.7 L187.5,176.2 L188.5,175.6 L189.6,174.7 L190.7,173.6 L191.7,172.4 L192.8,171.3 L193.9,170.4 L194.9,169.6 L196.0,168.8 L197.0,168.1 L198.1,167.5 L199.2,166.9 L200.2,166.4 L201.3,166.0 L202.3,165.6 L203.4,165.3 L204.5,165.0 L205.5,164.8 L206.6,164.6 L207.6,164.5 L208.7,164.3 L209.8,164.3 L210.8,164.2 L211.9,164.2 L213.0,164.3" fill="none" stroke="#b43f5e" stroke-width="1.35" stroke-linejoin="round" stroke-linecap="butt"/>
<rect x="123.80" y="134.40" width="93.40" height="99.20" fill="none" stroke="#ababab" stroke-width="0.9"/>
</g>
<g>
<rect x="220.90" y="134.40" width="93.40" height="99.20" fill="#fff"/>
<line x1="225.15" y1="134.40" x2="225.15" y2="233.60" stroke="#eeeeee" stroke-width="0.9"/>
<line x1="246.37" y1="134.40" x2="246.37" y2="233.60" stroke="#eeeeee" stroke-width="0.9"/>
<line x1="267.60" y1="134.40" x2="267.60" y2="233.60" stroke="#eeeeee" stroke-width="0.9"/>
<line x1="288.83" y1="134.40" x2="288.83" y2="233.60" stroke="#eeeeee" stroke-width="0.9"/>
<line x1="310.05" y1="134.40" x2="310.05" y2="233.60" stroke="#eeeeee" stroke-width="0.9"/>
<line x1="220.90" y1="227.80" x2="314.30" y2="227.80" stroke="#eeeeee" stroke-width="0.9"/>
<line x1="220.90" y1="202.00" x2="314.30" y2="202.00" stroke="#eeeeee" stroke-width="0.9"/>
<line x1="220.90" y1="176.20" x2="314.30" y2="176.20" stroke="#eeeeee" stroke-width="0.9"/>
<line x1="220.90" y1="150.40" x2="314.30" y2="150.40" stroke="#eeeeee" stroke-width="0.9"/>
<line x1="220.90" y1="227.80" x2="314.30" y2="227.80" stroke="#555555" stroke-width="1.3" stroke-dasharray="3.1 2.47" stroke-dashoffset="-0.6"/>
<path d="M225.1,227.8 L226.2,226.9 L227.3,226.0 L228.3,225.0 L229.4,224.0 L230.5,223.0 L231.5,222.0 L232.6,220.9 L233.6,219.7 L234.7,218.6 L235.8,217.4 L236.8,216.2 L237.9,215.0 L238.9,213.7 L240.0,212.4 L241.1,211.1 L242.1,209.8 L243.2,208.6 L244.2,207.4 L245.3,206.5 L246.4,205.7 L247.4,204.9 L248.5,204.1 L249.6,203.3 L250.6,202.3 L251.7,201.3 L252.7,200.1 L253.8,199.0 L254.9,198.0 L255.9,197.0 L257.0,196.2 L258.0,195.5 L259.1,194.8 L260.2,194.0 L261.2,193.2 L262.3,192.4 L263.4,191.5 L264.4,190.7 L265.5,189.8 L266.5,189.0 L267.6,188.1 L268.7,187.3 L269.7,186.4 L270.8,185.6 L271.8,184.7 L272.9,184.1 L274.0,183.7 L275.0,183.5 L276.1,183.1 L277.2,182.6 L278.2,182.0 L279.3,181.3 L280.3,180.7 L281.4,179.9 L282.5,179.0 L283.5,178.2 L284.6,177.5 L285.6,177.0 L286.7,176.6 L287.8,176.2 L288.8,175.7 L289.9,175.2 L290.9,174.6 L292.0,174.1 L293.1,173.5 L294.1,172.9 L295.2,172.3 L296.3,171.6 L297.3,170.9 L298.4,170.2 L299.4,169.6 L300.5,169.2 L301.6,169.1 L302.6,169.0 L303.7,169.1 L304.7,169.2 L305.8,169.3 L306.9,169.5 L307.9,169.6 L309.0,169.9 L310.1,170.2" fill="none" stroke="#16585d" stroke-width="1.35" stroke-linejoin="round" stroke-linecap="butt"/>
<path d="M225.1,227.8 L226.2,227.3 L227.3,226.7 L228.3,226.2 L229.4,225.5 L230.5,224.8 L231.5,224.0 L232.6,223.2 L233.6,222.2 L234.7,221.3 L235.8,220.3 L236.8,219.2 L237.9,218.2 L238.9,217.2 L240.0,216.1 L241.1,215.0 L242.1,213.9 L243.2,212.9 L244.2,211.9 L245.3,210.9 L246.4,209.9 L247.4,209.0 L248.5,208.0 L249.6,207.1 L250.6,206.1 L251.7,205.1 L252.7,204.1 L253.8,203.1 L254.9,202.1 L255.9,201.2 L257.0,200.2 L258.0,199.4 L259.1,198.7 L260.2,198.0 L261.2,197.3 L262.3,196.5 L263.4,195.6 L264.4,194.6 L265.5,193.7 L266.5,192.7 L267.6,191.8 L268.7,190.8 L269.7,189.9 L270.8,189.1 L271.8,188.3 L272.9,187.6 L274.0,187.1 L275.0,187.0 L276.1,187.0 L277.2,187.1 L278.2,187.1 L279.3,186.8 L280.3,186.3 L281.4,185.5 L282.5,184.7 L283.5,183.9 L284.6,183.1 L285.6,182.4 L286.7,181.6 L287.8,180.9 L288.8,180.3 L289.9,179.8 L290.9,179.4 L292.0,179.0 L293.1,178.6 L294.1,178.3 L295.2,178.0 L296.3,177.7 L297.3,177.5 L298.4,177.2 L299.4,177.0 L300.5,176.7 L301.6,176.5 L302.6,176.2 L303.7,176.0 L304.7,175.8 L305.8,175.5 L306.9,175.3 L307.9,175.1 L309.0,174.9 L310.1,174.8" fill="none" stroke="#b87233" stroke-width="1.35" stroke-linejoin="round" stroke-linecap="butt"/>
<path d="M225.1,227.8 L226.2,227.3 L227.3,226.9 L228.3,226.3 L229.4,225.8 L230.5,225.1 L231.5,224.4 L232.6,223.7 L233.6,222.8 L234.7,221.9 L235.8,221.0 L236.8,220.1 L237.9,219.1 L238.9,218.0 L240.0,217.0 L241.1,215.8 L242.1,214.8 L243.2,213.7 L244.2,212.8 L245.3,211.8 L246.4,210.9 L247.4,210.0 L248.5,209.1 L249.6,208.1 L250.6,207.2 L251.7,206.3 L252.7,205.4 L253.8,204.5 L254.9,203.6 L255.9,202.7 L257.0,201.9 L258.0,201.2 L259.1,200.5 L260.2,199.9 L261.2,199.3 L262.3,198.7 L263.4,197.9 L264.4,197.0 L265.5,196.0 L266.5,195.1 L267.6,194.3 L268.7,193.6 L269.7,193.1 L270.8,192.5 L271.8,192.0 L272.9,191.4 L274.0,190.9 L275.0,190.4 L276.1,189.8 L277.2,189.3 L278.2,188.7 L279.3,188.2 L280.3,187.6 L281.4,187.0 L282.5,186.5 L283.5,185.9 L284.6,185.3 L285.6,184.8 L286.7,184.2 L287.8,183.7 L288.8,183.1 L289.9,182.6 L290.9,182.3 L292.0,182.0 L293.1,181.7 L294.1,181.5 L295.2,181.3 L296.3,181.1 L297.3,180.9 L298.4,180.6 L299.4,180.3 L300.5,179.9 L301.6,179.5 L302.6,179.1 L303.7,178.6 L304.7,178.2 L305.8,177.7 L306.9,177.2 L307.9,176.7 L309.0,176.2 L310.1,175.7" fill="none" stroke="#5f5775" stroke-width="1.35" stroke-linejoin="round" stroke-linecap="butt"/>
<path d="M225.1,227.8 L226.2,227.3 L227.3,226.8 L228.3,226.3 L229.4,225.7 L230.5,225.0 L231.5,224.3 L232.6,223.5 L233.6,222.6 L234.7,221.7 L235.8,220.7 L236.8,219.7 L237.9,218.7 L238.9,217.7 L240.0,216.6 L241.1,215.5 L242.1,214.4 L243.2,213.4 L244.2,212.4 L245.3,211.4 L246.4,210.5 L247.4,209.5 L248.5,208.5 L249.6,207.6 L250.6,206.6 L251.7,205.7 L252.7,204.7 L253.8,203.8 L254.9,202.8 L255.9,201.9 L257.0,201.0 L258.0,200.3 L259.1,199.6 L260.2,199.0 L261.2,198.4 L262.3,197.7 L263.4,196.8 L264.4,195.9 L265.5,194.9 L266.5,193.9 L267.6,192.9 L268.7,192.0 L269.7,191.2 L270.8,190.4 L271.8,189.7 L272.9,189.1 L274.0,188.6 L275.0,188.3 L276.1,188.1 L277.2,188.0 L278.2,187.8 L279.3,187.4 L280.3,186.9 L281.4,186.2 L282.5,185.4 L283.5,184.7 L284.6,184.0 L285.6,183.4 L286.7,182.8 L287.8,182.2 L288.8,181.8 L289.9,181.4 L290.9,181.0 L292.0,180.7 L293.1,180.4 L294.1,180.1 L295.2,179.8 L296.3,179.5 L297.3,179.2 L298.4,178.8 L299.4,178.5 L300.5,178.1 L301.6,177.7 L302.6,177.3 L303.7,176.9 L304.7,176.5 L305.8,176.1 L306.9,175.7 L307.9,175.3 L309.0,174.8 L310.1,174.4" fill="none" stroke="#b43f5e" stroke-width="1.35" stroke-linejoin="round" stroke-linecap="butt"/>
<rect x="220.90" y="134.40" width="93.40" height="99.20" fill="none" stroke="#ababab" stroke-width="0.9"/>
</g>
<g>
<rect x="318.00" y="134.40" width="93.40" height="99.20" fill="#fff"/>
<line x1="322.25" y1="134.40" x2="322.25" y2="233.60" stroke="#eeeeee" stroke-width="0.9"/>
<line x1="343.47" y1="134.40" x2="343.47" y2="233.60" stroke="#eeeeee" stroke-width="0.9"/>
<line x1="364.70" y1="134.40" x2="364.70" y2="233.60" stroke="#eeeeee" stroke-width="0.9"/>
<line x1="385.93" y1="134.40" x2="385.93" y2="233.60" stroke="#eeeeee" stroke-width="0.9"/>
<line x1="407.15" y1="134.40" x2="407.15" y2="233.60" stroke="#eeeeee" stroke-width="0.9"/>
<line x1="318.00" y1="227.80" x2="411.40" y2="227.80" stroke="#eeeeee" stroke-width="0.9"/>
<line x1="318.00" y1="202.00" x2="411.40" y2="202.00" stroke="#eeeeee" stroke-width="0.9"/>
<line x1="318.00" y1="176.20" x2="411.40" y2="176.20" stroke="#eeeeee" stroke-width="0.9"/>
<line x1="318.00" y1="150.40" x2="411.40" y2="150.40" stroke="#eeeeee" stroke-width="0.9"/>
<line x1="318.00" y1="227.80" x2="411.40" y2="227.80" stroke="#555555" stroke-width="1.3" stroke-dasharray="3.1 2.47" stroke-dashoffset="-0.6"/>
<path d="M322.2,227.8 L323.3,226.8 L324.4,225.7 L325.4,224.7 L326.5,223.7 L327.6,222.7 L328.6,221.7 L329.7,220.8 L330.7,219.8 L331.8,218.9 L332.9,217.9 L333.9,217.0 L335.0,216.0 L336.0,215.0 L337.1,213.9 L338.2,212.7 L339.2,211.4 L340.3,210.1 L341.3,209.0 L342.4,207.9 L343.5,206.9 L344.5,205.9 L345.6,205.0 L346.7,204.2 L347.7,203.4 L348.8,202.7 L349.8,202.0 L350.9,201.4 L352.0,200.8 L353.0,200.1 L354.1,199.6 L355.1,199.0 L356.2,198.4 L357.3,197.9 L358.3,197.3 L359.4,196.8 L360.5,196.3 L361.5,195.8 L362.6,195.3 L363.6,194.8 L364.7,194.3 L365.8,193.8 L366.8,193.4 L367.9,193.0 L368.9,192.6 L370.0,192.4 L371.1,192.2 L372.1,192.0 L373.2,191.8 L374.3,191.6 L375.3,191.4 L376.4,191.2 L377.4,191.0 L378.5,190.7 L379.6,190.4 L380.6,190.0 L381.7,189.6 L382.7,189.2 L383.8,188.8 L384.9,188.5 L385.9,188.1 L387.0,187.7 L388.0,187.3 L389.1,186.9 L390.2,186.5 L391.2,186.1 L392.3,185.7 L393.4,185.4 L394.4,185.0 L395.5,184.6 L396.5,184.2 L397.6,183.8 L398.7,183.5 L399.7,183.2 L400.8,183.0 L401.8,182.8 L402.9,182.6 L404.0,182.4 L405.0,182.3 L406.1,182.1 L407.2,182.0" fill="none" stroke="#16585d" stroke-width="1.35" stroke-linejoin="round" stroke-linecap="butt"/>
<path d="M322.2,227.8 L323.3,226.5 L324.4,225.2 L325.4,224.0 L326.5,222.7 L327.6,221.5 L328.6,220.4 L329.7,219.2 L330.7,218.0 L331.8,216.9 L332.9,215.8 L333.9,214.8 L335.0,213.9 L336.0,213.0 L337.1,212.2 L338.2,211.5 L339.2,210.8 L340.3,210.1 L341.3,209.3 L342.4,208.6 L343.5,207.9 L344.5,207.3 L345.6,206.6 L346.7,206.0 L347.7,205.4 L348.8,205.0 L349.8,204.5 L350.9,204.1 L352.0,203.6 L353.0,203.2 L354.1,202.8 L355.1,202.3 L356.2,201.9 L357.3,201.5 L358.3,201.0 L359.4,200.6 L360.5,200.2 L361.5,199.7 L362.6,199.3 L363.6,199.0 L364.7,198.7 L365.8,198.4 L366.8,198.2 L367.9,198.0 L368.9,197.8 L370.0,197.5 L371.1,197.2 L372.1,196.9 L373.2,196.6 L374.3,196.3 L375.3,195.9 L376.4,195.4 L377.4,194.8 L378.5,194.2 L379.6,193.7 L380.6,193.5 L381.7,193.4 L382.7,193.3 L383.8,193.2 L384.9,193.1 L385.9,192.8 L387.0,192.5 L388.0,192.1 L389.1,191.8 L390.2,191.5 L391.2,191.1 L392.3,190.8 L393.4,190.4 L394.4,190.1 L395.5,189.7 L396.5,189.4 L397.6,189.0 L398.7,188.6 L399.7,188.3 L400.8,187.9 L401.8,187.5 L402.9,187.2 L404.0,186.8 L405.0,186.4 L406.1,186.1 L407.2,185.7" fill="none" stroke="#b87233" stroke-width="1.35" stroke-linejoin="round" stroke-linecap="butt"/>
<path d="M322.2,227.8 L323.3,226.8 L324.4,225.9 L325.4,225.0 L326.5,224.1 L327.6,223.2 L328.6,222.3 L329.7,221.4 L330.7,220.6 L331.8,219.8 L332.9,218.9 L333.9,218.1 L335.0,217.2 L336.0,216.3 L337.1,215.4 L338.2,214.5 L339.2,213.5 L340.3,212.6 L341.3,211.6 L342.4,210.7 L343.5,209.7 L344.5,208.8 L345.6,207.7 L346.7,206.7 L347.7,205.9 L348.8,205.3 L349.8,204.9 L350.9,204.4 L352.0,204.0 L353.0,203.5 L354.1,203.1 L355.1,202.7 L356.2,202.2 L357.3,201.8 L358.3,201.3 L359.4,200.9 L360.5,200.4 L361.5,200.0 L362.6,199.6 L363.6,199.2 L364.7,198.9 L365.8,198.7 L366.8,198.4 L367.9,198.2 L368.9,197.9 L370.0,197.6 L371.1,197.3 L372.1,197.0 L373.2,196.6 L374.3,196.3 L375.3,195.9 L376.4,195.6 L377.4,195.2 L378.5,194.8 L379.6,194.5 L380.6,194.1 L381.7,193.7 L382.7,193.3 L383.8,192.9 L384.9,192.6 L385.9,192.2 L387.0,191.9 L388.0,191.5 L389.1,191.2 L390.2,190.9 L391.2,190.6 L392.3,190.3 L393.4,189.9 L394.4,189.6 L395.5,189.3 L396.5,188.9 L397.6,188.6 L398.7,188.2 L399.7,187.9 L400.8,187.5 L401.8,187.1 L402.9,186.7 L404.0,186.3 L405.0,185.9 L406.1,185.5 L407.2,185.1" fill="none" stroke="#5f5775" stroke-width="1.35" stroke-linejoin="round" stroke-linecap="butt"/>
<path d="M322.2,227.8 L323.3,226.5 L324.4,225.3 L325.4,224.2 L326.5,223.2 L327.6,222.3 L328.6,221.4 L329.7,220.7 L330.7,219.9 L331.8,219.2 L332.9,218.6 L333.9,218.0 L335.0,217.4 L336.0,216.9 L337.1,216.4 L338.2,216.0 L339.2,215.5 L340.3,215.0 L341.3,214.6 L342.4,214.2 L343.5,213.9 L344.5,213.5 L345.6,213.2 L346.7,212.9 L347.7,212.6 L348.8,212.2 L349.8,211.9 L350.9,211.6 L352.0,211.3 L353.0,210.9 L354.1,210.6 L355.1,210.3 L356.2,210.0 L357.3,209.7 L358.3,209.3 L359.4,209.0 L360.5,208.7 L361.5,208.4 L362.6,208.1 L363.6,207.7 L364.7,207.4 L365.8,207.1 L366.8,206.9 L367.9,206.8 L368.9,206.6 L370.0,206.5 L371.1,206.3 L372.1,206.1 L373.2,205.7 L374.3,205.3 L375.3,204.7 L376.4,204.1 L377.4,203.5 L378.5,202.9 L379.6,202.3 L380.6,201.8 L381.7,201.4 L382.7,201.2 L383.8,201.0 L384.9,200.8 L385.9,200.5 L387.0,200.2 L388.0,199.9 L389.1,199.6 L390.2,199.3 L391.2,199.0 L392.3,198.7 L393.4,198.4 L394.4,198.1 L395.5,197.7 L396.5,197.4 L397.6,197.0 L398.7,196.6 L399.7,196.1 L400.8,195.6 L401.8,195.1 L402.9,194.6 L404.0,194.1 L405.0,193.5 L406.1,193.0 L407.2,192.4" fill="none" stroke="#b43f5e" stroke-width="1.35" stroke-linejoin="round" stroke-linecap="butt"/>
<rect x="318.00" y="134.40" width="93.40" height="99.20" fill="none" stroke="#ababab" stroke-width="0.9"/>
</g>
<g>
<rect x="415.10" y="134.40" width="93.40" height="99.20" fill="#fff"/>
<line x1="419.35" y1="134.40" x2="419.35" y2="233.60" stroke="#eeeeee" stroke-width="0.9"/>
<line x1="440.57" y1="134.40" x2="440.57" y2="233.60" stroke="#eeeeee" stroke-width="0.9"/>
<line x1="461.80" y1="134.40" x2="461.80" y2="233.60" stroke="#eeeeee" stroke-width="0.9"/>
<line x1="483.03" y1="134.40" x2="483.03" y2="233.60" stroke="#eeeeee" stroke-width="0.9"/>
<line x1="504.25" y1="134.40" x2="504.25" y2="233.60" stroke="#eeeeee" stroke-width="0.9"/>
<line x1="415.10" y1="227.80" x2="508.50" y2="227.80" stroke="#eeeeee" stroke-width="0.9"/>
<line x1="415.10" y1="202.00" x2="508.50" y2="202.00" stroke="#eeeeee" stroke-width="0.9"/>
<line x1="415.10" y1="176.20" x2="508.50" y2="176.20" stroke="#eeeeee" stroke-width="0.9"/>
<line x1="415.10" y1="150.40" x2="508.50" y2="150.40" stroke="#eeeeee" stroke-width="0.9"/>
<line x1="415.10" y1="227.80" x2="508.50" y2="227.80" stroke="#555555" stroke-width="1.3" stroke-dasharray="3.1 2.47" stroke-dashoffset="-0.6"/>
<path d="M419.3,227.8 L420.4,226.9 L421.5,225.9 L422.5,224.9 L423.6,224.0 L424.7,223.0 L425.7,222.1 L426.8,221.1 L427.8,220.2 L428.9,219.2 L430.0,218.2 L431.0,217.3 L432.1,216.3 L433.1,215.3 L434.2,214.4 L435.3,213.5 L436.3,212.6 L437.4,211.7 L438.4,211.0 L439.5,210.2 L440.6,209.5 L441.6,208.9 L442.7,208.4 L443.8,207.9 L444.8,207.5 L445.9,207.0 L446.9,206.4 L448.0,205.7 L449.1,205.0 L450.1,204.4 L451.2,203.6 L452.2,202.9 L453.3,202.2 L454.4,201.4 L455.4,200.5 L456.5,199.6 L457.6,198.7 L458.6,197.8 L459.7,196.9 L460.7,196.1 L461.8,195.4 L462.9,194.8 L463.9,194.2 L465.0,193.6 L466.0,192.8 L467.1,191.9 L468.2,191.0 L469.2,190.0 L470.3,189.1 L471.4,188.2 L472.4,187.3 L473.5,186.4 L474.5,185.5 L475.6,184.6 L476.7,184.0 L477.7,183.7 L478.8,183.6 L479.8,183.6 L480.9,183.7 L482.0,183.6 L483.0,183.4 L484.1,183.1 L485.1,182.7 L486.2,182.2 L487.3,181.8 L488.3,181.5 L489.4,181.2 L490.5,181.0 L491.5,181.0 L492.6,181.2 L493.6,181.3 L494.7,181.5 L495.8,181.7 L496.8,181.7 L497.9,181.6 L498.9,181.5 L500.0,181.4 L501.1,181.2 L502.1,181.0 L503.2,180.8 L504.3,180.5" fill="none" stroke="#16585d" stroke-width="1.35" stroke-linejoin="round" stroke-linecap="butt"/>
<path d="M419.3,227.8 L420.4,226.7 L421.5,225.7 L422.5,224.7 L423.6,223.7 L424.7,222.7 L425.7,221.8 L426.8,220.9 L427.8,220.0 L428.9,219.2 L430.0,218.5 L431.0,217.8 L432.1,217.2 L433.1,216.5 L434.2,215.8 L435.3,215.2 L436.3,214.5 L437.4,213.8 L438.4,213.2 L439.5,212.5 L440.6,211.8 L441.6,211.1 L442.7,210.4 L443.8,209.7 L444.8,209.0 L445.9,208.4 L446.9,207.7 L448.0,207.0 L449.1,206.3 L450.1,205.7 L451.2,205.0 L452.2,204.4 L453.3,203.8 L454.4,203.1 L455.4,202.5 L456.5,201.9 L457.6,201.3 L458.6,200.7 L459.7,200.1 L460.7,199.5 L461.8,198.9 L462.9,198.3 L463.9,197.7 L465.0,197.1 L466.0,196.5 L467.1,195.9 L468.2,195.3 L469.2,194.7 L470.3,194.1 L471.4,193.6 L472.4,193.0 L473.5,192.6 L474.5,192.1 L475.6,191.8 L476.7,191.5 L477.7,191.1 L478.8,190.8 L479.8,190.5 L480.9,190.1 L482.0,189.8 L483.0,189.5 L484.1,189.1 L485.1,188.8 L486.2,188.5 L487.3,188.1 L488.3,187.8 L489.4,187.5 L490.5,187.1 L491.5,186.8 L492.6,186.5 L493.6,186.1 L494.7,185.8 L495.8,185.5 L496.8,185.2 L497.9,185.0 L498.9,184.8 L500.0,184.6 L501.1,184.4 L502.1,184.3 L503.2,184.1 L504.3,184.0" fill="none" stroke="#b87233" stroke-width="1.35" stroke-linejoin="round" stroke-linecap="butt"/>
<path d="M419.3,227.8 L420.4,226.8 L421.5,225.8 L422.5,224.9 L423.6,223.9 L424.7,223.0 L425.7,222.1 L426.8,221.3 L427.8,220.5 L428.9,219.7 L430.0,219.0 L431.0,218.3 L432.1,217.7 L433.1,217.0 L434.2,216.4 L435.3,215.7 L436.3,215.1 L437.4,214.5 L438.4,213.9 L439.5,213.4 L440.6,212.8 L441.6,212.3 L442.7,211.8 L443.8,211.3 L444.8,210.8 L445.9,210.3 L446.9,209.7 L448.0,209.2 L449.1,208.7 L450.1,208.2 L451.2,207.7 L452.2,207.1 L453.3,206.6 L454.4,206.1 L455.4,205.5 L456.5,205.0 L457.6,204.4 L458.6,203.9 L459.7,203.4 L460.7,202.9 L461.8,202.4 L462.9,202.0 L463.9,201.6 L465.0,201.1 L466.0,200.7 L467.1,200.3 L468.2,199.8 L469.2,199.3 L470.3,198.8 L471.4,198.4 L472.4,197.9 L473.5,197.4 L474.5,196.9 L475.6,196.5 L476.7,196.0 L477.7,195.6 L478.8,195.2 L479.8,194.8 L480.9,194.4 L482.0,194.0 L483.0,193.7 L484.1,193.3 L485.1,193.0 L486.2,192.7 L487.3,192.4 L488.3,192.2 L489.4,191.9 L490.5,191.7 L491.5,191.4 L492.6,191.2 L493.6,190.9 L494.7,190.6 L495.8,190.3 L496.8,190.0 L497.9,189.6 L498.9,189.3 L500.0,189.0 L501.1,188.7 L502.1,188.3 L503.2,188.0 L504.3,187.6" fill="none" stroke="#5f5775" stroke-width="1.35" stroke-linejoin="round" stroke-linecap="butt"/>
<path d="M419.3,227.8 L420.4,226.9 L421.5,226.0 L422.5,225.1 L423.6,224.2 L424.7,223.3 L425.7,222.5 L426.8,221.8 L427.8,221.1 L428.9,220.4 L430.0,219.8 L431.0,219.2 L432.1,218.7 L433.1,218.1 L434.2,217.6 L435.3,217.0 L436.3,216.5 L437.4,216.0 L438.4,215.4 L439.5,214.9 L440.6,214.4 L441.6,213.9 L442.7,213.3 L443.8,212.8 L444.8,212.3 L445.9,211.8 L446.9,211.3 L448.0,210.8 L449.1,210.2 L450.1,209.7 L451.2,209.2 L452.2,208.7 L453.3,208.2 L454.4,207.7 L455.4,207.2 L456.5,206.7 L457.6,206.2 L458.6,205.8 L459.7,205.4 L460.7,205.1 L461.8,204.8 L462.9,204.5 L463.9,204.2 L465.0,204.0 L466.0,203.7 L467.1,203.4 L468.2,203.2 L469.2,202.9 L470.3,202.6 L471.4,202.3 L472.4,202.1 L473.5,201.8 L474.5,201.5 L475.6,201.3 L476.7,201.0 L477.7,200.8 L478.8,200.6 L479.8,200.5 L480.9,200.3 L482.0,200.1 L483.0,199.9 L484.1,199.7 L485.1,199.5 L486.2,199.3 L487.3,199.0 L488.3,198.7 L489.4,198.5 L490.5,198.2 L491.5,197.9 L492.6,197.6 L493.6,197.3 L494.7,197.1 L495.8,196.9 L496.8,196.7 L497.9,196.4 L498.9,196.3 L500.0,196.1 L501.1,195.9 L502.1,195.7 L503.2,195.5 L504.3,195.4" fill="none" stroke="#b43f5e" stroke-width="1.35" stroke-linejoin="round" stroke-linecap="butt"/>
<rect x="415.10" y="134.40" width="93.40" height="99.20" fill="none" stroke="#ababab" stroke-width="0.9"/>
</g>
<g>
<rect x="26.70" y="237.60" width="93.40" height="99.20" fill="#fff"/>
<line x1="30.95" y1="237.60" x2="30.95" y2="336.80" stroke="#eeeeee" stroke-width="0.9"/>
<line x1="52.17" y1="237.60" x2="52.17" y2="336.80" stroke="#eeeeee" stroke-width="0.9"/>
<line x1="73.40" y1="237.60" x2="73.40" y2="336.80" stroke="#eeeeee" stroke-width="0.9"/>
<line x1="94.63" y1="237.60" x2="94.63" y2="336.80" stroke="#eeeeee" stroke-width="0.9"/>
<line x1="115.85" y1="237.60" x2="115.85" y2="336.80" stroke="#eeeeee" stroke-width="0.9"/>
<line x1="26.70" y1="331.00" x2="120.10" y2="331.00" stroke="#eeeeee" stroke-width="0.9"/>
<line x1="26.70" y1="305.20" x2="120.10" y2="305.20" stroke="#eeeeee" stroke-width="0.9"/>
<line x1="26.70" y1="279.40" x2="120.10" y2="279.40" stroke="#eeeeee" stroke-width="0.9"/>
<line x1="26.70" y1="253.60" x2="120.10" y2="253.60" stroke="#eeeeee" stroke-width="0.9"/>
<line x1="26.70" y1="331.00" x2="120.10" y2="331.00" stroke="#555555" stroke-width="1.3" stroke-dasharray="3.1 2.47" stroke-dashoffset="-0.6"/>
<path d="M30.9,331.0 L32.0,329.9 L33.1,328.9 L34.1,327.8 L35.2,326.6 L36.3,325.5 L37.3,324.2 L38.4,322.9 L39.4,321.6 L40.5,320.1 L41.6,318.6 L42.6,317.1 L43.7,315.6 L44.7,314.0 L45.8,312.5 L46.9,311.0 L47.9,309.5 L49.0,308.1 L50.0,306.7 L51.1,305.3 L52.2,303.9 L53.2,302.4 L54.3,301.0 L55.4,299.4 L56.4,297.8 L57.5,295.8 L58.5,293.9 L59.6,292.0 L60.7,290.2 L61.7,288.4 L62.8,286.6 L63.8,284.8 L64.9,283.0 L66.0,281.1 L67.0,279.2 L68.1,277.4 L69.2,275.8 L70.2,274.5 L71.3,273.4 L72.3,272.4 L73.4,271.3 L74.5,270.3 L75.5,269.2 L76.6,268.2 L77.6,267.1 L78.7,266.1 L79.8,265.0 L80.8,264.0 L81.9,262.9 L83.0,261.9 L84.0,260.8 L85.1,259.7 L86.1,258.6 L87.2,257.5 L88.3,256.4 L89.3,255.4 L90.4,254.5 L91.4,253.7 L92.5,252.8 L93.6,252.0 L94.6,251.1 L95.7,250.3 L96.8,249.5 L97.8,248.7 L98.9,247.9 L99.9,247.1 L101.0,246.4 L102.1,245.9 L103.1,245.4 L104.2,245.1 L105.2,244.9 L106.3,244.7 L107.4,244.7 L108.4,244.7 L109.5,244.7 L110.5,244.8 L111.6,245.0 L112.7,245.2 L113.7,245.5 L114.8,245.8 L115.9,246.2" fill="none" stroke="#16585d" stroke-width="1.35" stroke-linejoin="round" stroke-linecap="butt"/>
<path d="M30.9,331.0 L32.0,329.9 L33.1,328.9 L34.1,327.8 L35.2,326.6 L36.3,325.5 L37.3,324.2 L38.4,322.9 L39.4,321.6 L40.5,320.1 L41.6,318.6 L42.6,317.1 L43.7,315.6 L44.7,314.0 L45.8,312.5 L46.9,311.0 L47.9,309.5 L49.0,308.1 L50.0,306.6 L51.1,305.2 L52.2,303.7 L53.2,302.3 L54.3,300.9 L55.4,299.4 L56.4,297.9 L57.5,296.1 L58.5,294.3 L59.6,292.6 L60.7,290.9 L61.7,289.3 L62.8,287.8 L63.8,286.5 L64.9,285.4 L66.0,284.4 L67.0,283.4 L68.1,282.5 L69.2,281.6 L70.2,280.7 L71.3,279.8 L72.3,278.9 L73.4,278.0 L74.5,277.2 L75.5,276.3 L76.6,275.4 L77.6,274.4 L78.7,273.2 L79.8,271.8 L80.8,270.3 L81.9,268.9 L83.0,267.5 L84.0,266.3 L85.1,265.2 L86.1,264.1 L87.2,263.0 L88.3,262.0 L89.3,261.2 L90.4,260.6 L91.4,260.1 L92.5,259.6 L93.6,258.8 L94.6,257.8 L95.7,256.6 L96.8,255.4 L97.8,254.2 L98.9,253.0 L99.9,251.8 L101.0,250.9 L102.1,250.1 L103.1,249.5 L104.2,249.0 L105.2,248.5 L106.3,248.0 L107.4,247.5 L108.4,247.1 L109.5,246.7 L110.5,246.2 L111.6,245.8 L112.7,245.4 L113.7,245.0 L114.8,244.7 L115.9,244.3" fill="none" stroke="#b87233" stroke-width="1.35" stroke-linejoin="round" stroke-linecap="butt"/>
<path d="M30.9,331.0 L32.0,330.0 L33.1,329.0 L34.1,328.0 L35.2,327.1 L36.3,326.1 L37.3,325.0 L38.4,324.0 L39.4,323.0 L40.5,322.0 L41.6,321.0 L42.6,319.9 L43.7,318.9 L44.7,317.9 L45.8,316.8 L46.9,315.8 L47.9,314.7 L49.0,313.6 L50.0,312.6 L51.1,311.5 L52.2,310.4 L53.2,309.4 L54.3,308.3 L55.4,307.2 L56.4,306.1 L57.5,305.0 L58.5,303.9 L59.6,302.8 L60.7,301.7 L61.7,300.6 L62.8,299.5 L63.8,298.4 L64.9,297.3 L66.0,296.1 L67.0,295.0 L68.1,293.8 L69.2,292.4 L70.2,291.1 L71.3,289.7 L72.3,288.4 L73.4,287.2 L74.5,286.0 L75.5,284.9 L76.6,283.8 L77.6,282.8 L78.7,281.8 L79.8,280.9 L80.8,280.0 L81.9,279.1 L83.0,278.1 L84.0,277.1 L85.1,276.0 L86.1,274.9 L87.2,273.8 L88.3,272.7 L89.3,271.5 L90.4,270.4 L91.4,269.3 L92.5,268.2 L93.6,267.2 L94.6,266.5 L95.7,266.2 L96.8,266.1 L97.8,266.0 L98.9,265.8 L99.9,265.3 L101.0,264.7 L102.1,264.0 L103.1,263.3 L104.2,262.6 L105.2,261.8 L106.3,261.0 L107.4,260.2 L108.4,259.4 L109.5,258.6 L110.5,257.8 L111.6,257.0 L112.7,256.2 L113.7,255.3 L114.8,254.4 L115.9,253.5" fill="none" stroke="#5f5775" stroke-width="1.35" stroke-linejoin="round" stroke-linecap="butt"/>
<path d="M30.9,331.0 L32.0,330.0 L33.1,329.0 L34.1,328.0 L35.2,327.1 L36.3,326.1 L37.3,325.0 L38.4,324.0 L39.4,323.0 L40.5,322.0 L41.6,321.0 L42.6,319.9 L43.7,318.9 L44.7,317.9 L45.8,316.8 L46.9,315.8 L47.9,314.7 L49.0,313.6 L50.0,312.6 L51.1,311.5 L52.2,310.4 L53.2,309.4 L54.3,308.3 L55.4,307.2 L56.4,306.1 L57.5,305.0 L58.5,303.9 L59.6,302.8 L60.7,301.7 L61.7,300.6 L62.8,299.5 L63.8,298.4 L64.9,297.2 L66.0,296.1 L67.0,295.0 L68.1,293.8 L69.2,292.6 L70.2,291.3 L71.3,290.1 L72.3,288.8 L73.4,287.7 L74.5,286.6 L75.5,285.6 L76.6,284.7 L77.6,283.8 L78.7,283.0 L79.8,282.2 L80.8,281.5 L81.9,280.8 L83.0,280.1 L84.0,279.4 L85.1,278.8 L86.1,278.2 L87.2,277.6 L88.3,277.0 L89.3,276.4 L90.4,275.7 L91.4,274.7 L92.5,273.7 L93.6,272.9 L94.6,272.2 L95.7,271.5 L96.8,270.9 L97.8,270.2 L98.9,269.5 L99.9,268.7 L101.0,267.9 L102.1,267.1 L103.1,266.3 L104.2,265.6 L105.2,264.8 L106.3,264.0 L107.4,263.2 L108.4,262.5 L109.5,261.7 L110.5,261.0 L111.6,260.2 L112.7,259.4 L113.7,258.7 L114.8,258.0 L115.9,257.2" fill="none" stroke="#b43f5e" stroke-width="1.35" stroke-linejoin="round" stroke-linecap="butt"/>
<rect x="26.70" y="237.60" width="93.40" height="99.20" fill="none" stroke="#ababab" stroke-width="0.9"/>
</g>
<g>
<rect x="123.80" y="237.60" width="93.40" height="99.20" fill="#fff"/>
<line x1="128.05" y1="237.60" x2="128.05" y2="336.80" stroke="#eeeeee" stroke-width="0.9"/>
<line x1="149.27" y1="237.60" x2="149.27" y2="336.80" stroke="#eeeeee" stroke-width="0.9"/>
<line x1="170.50" y1="237.60" x2="170.50" y2="336.80" stroke="#eeeeee" stroke-width="0.9"/>
<line x1="191.73" y1="237.60" x2="191.73" y2="336.80" stroke="#eeeeee" stroke-width="0.9"/>
<line x1="212.95" y1="237.60" x2="212.95" y2="336.80" stroke="#eeeeee" stroke-width="0.9"/>
<line x1="123.80" y1="331.00" x2="217.20" y2="331.00" stroke="#eeeeee" stroke-width="0.9"/>
<line x1="123.80" y1="305.20" x2="217.20" y2="305.20" stroke="#eeeeee" stroke-width="0.9"/>
<line x1="123.80" y1="279.40" x2="217.20" y2="279.40" stroke="#eeeeee" stroke-width="0.9"/>
<line x1="123.80" y1="253.60" x2="217.20" y2="253.60" stroke="#eeeeee" stroke-width="0.9"/>
<line x1="123.80" y1="331.00" x2="217.20" y2="331.00" stroke="#555555" stroke-width="1.3" stroke-dasharray="3.1 2.47" stroke-dashoffset="-0.6"/>
<path d="M128.0,331.0 L129.1,329.7 L130.2,328.4 L131.2,327.2 L132.3,326.0 L133.4,324.7 L134.4,323.5 L135.5,322.3 L136.5,321.2 L137.6,320.1 L138.7,319.0 L139.7,317.9 L140.8,316.8 L141.8,315.5 L142.9,314.2 L144.0,312.9 L145.0,311.6 L146.1,310.2 L147.2,308.8 L148.2,307.4 L149.3,306.0 L150.3,304.6 L151.4,303.2 L152.5,301.7 L153.5,300.2 L154.6,298.7 L155.6,297.3 L156.7,296.0 L157.8,294.9 L158.8,293.8 L159.9,292.8 L160.9,291.9 L162.0,291.0 L163.1,290.2 L164.1,289.3 L165.2,288.4 L166.3,287.5 L167.3,286.6 L168.4,285.7 L169.4,284.9 L170.5,284.0 L171.6,283.2 L172.6,282.4 L173.7,281.6 L174.7,280.9 L175.8,280.1 L176.9,279.3 L177.9,278.3 L179.0,277.2 L180.1,276.1 L181.1,275.1 L182.2,274.2 L183.2,273.2 L184.3,272.3 L185.4,271.4 L186.4,270.5 L187.5,269.7 L188.5,268.8 L189.6,267.9 L190.7,267.1 L191.7,266.2 L192.8,265.4 L193.9,264.7 L194.9,264.0 L196.0,263.4 L197.0,262.9 L198.1,262.6 L199.2,262.5 L200.2,262.4 L201.3,262.2 L202.3,262.0 L203.4,261.7 L204.5,261.4 L205.5,261.0 L206.6,260.7 L207.6,260.3 L208.7,260.0 L209.8,259.6 L210.8,259.2 L211.9,258.7 L213.0,258.3" fill="none" stroke="#16585d" stroke-width="1.35" stroke-linejoin="round" stroke-linecap="butt"/>
<path d="M128.0,331.0 L129.1,330.8 L130.2,330.5 L131.2,330.2 L132.3,329.9 L133.4,329.4 L134.4,328.9 L135.5,328.3 L136.5,327.7 L137.6,326.9 L138.7,326.0 L139.7,325.0 L140.8,323.9 L141.8,322.6 L142.9,321.2 L144.0,319.8 L145.0,318.2 L146.1,316.6 L147.2,315.1 L148.2,313.5 L149.3,312.1 L150.3,310.8 L151.4,309.4 L152.5,308.1 L153.5,306.8 L154.6,305.6 L155.6,304.4 L156.7,303.3 L157.8,302.2 L158.8,301.2 L159.9,300.2 L160.9,299.3 L162.0,298.4 L163.1,297.5 L164.1,296.7 L165.2,295.9 L166.3,295.1 L167.3,294.3 L168.4,293.6 L169.4,292.7 L170.5,291.9 L171.6,291.0 L172.6,290.2 L173.7,289.3 L174.7,288.4 L175.8,287.5 L176.9,286.6 L177.9,285.7 L179.0,284.7 L180.1,283.8 L181.1,282.8 L182.2,281.8 L183.2,280.9 L184.3,279.9 L185.4,279.0 L186.4,278.0 L187.5,277.0 L188.5,276.1 L189.6,275.3 L190.7,274.6 L191.7,274.1 L192.8,273.8 L193.9,273.5 L194.9,273.2 L196.0,272.9 L197.0,272.5 L198.1,272.1 L199.2,271.7 L200.2,271.2 L201.3,270.8 L202.3,270.3 L203.4,269.8 L204.5,269.3 L205.5,268.8 L206.6,268.2 L207.6,267.7 L208.7,267.1 L209.8,266.5 L210.8,266.0 L211.9,265.4 L213.0,264.7" fill="none" stroke="#b87233" stroke-width="1.35" stroke-linejoin="round" stroke-linecap="butt"/>
<path d="M128.0,331.0 L129.1,330.6 L130.2,330.2 L131.2,329.7 L132.3,329.3 L133.4,328.7 L134.4,328.2 L135.5,327.6 L136.5,326.9 L137.6,326.2 L138.7,325.4 L139.7,324.6 L140.8,323.7 L141.8,322.7 L142.9,321.6 L144.0,320.5 L145.0,319.3 L146.1,318.1 L147.2,316.9 L148.2,315.8 L149.3,314.7 L150.3,313.7 L151.4,312.7 L152.5,311.8 L153.5,310.8 L154.6,309.9 L155.6,308.9 L156.7,307.9 L157.8,306.8 L158.8,305.8 L159.9,304.7 L160.9,303.7 L162.0,302.6 L163.1,301.6 L164.1,300.6 L165.2,299.5 L166.3,298.5 L167.3,297.5 L168.4,296.6 L169.4,295.6 L170.5,294.7 L171.6,293.8 L172.6,292.9 L173.7,292.0 L174.7,291.2 L175.8,290.3 L176.9,289.5 L177.9,288.6 L179.0,287.7 L180.1,286.9 L181.1,286.1 L182.2,285.2 L183.2,284.4 L184.3,283.6 L185.4,282.9 L186.4,282.3 L187.5,281.8 L188.5,281.3 L189.6,280.9 L190.7,280.5 L191.7,280.1 L192.8,279.9 L193.9,279.6 L194.9,279.3 L196.0,278.9 L197.0,278.4 L198.1,277.9 L199.2,277.4 L200.2,276.8 L201.3,276.3 L202.3,275.8 L203.4,275.4 L204.5,275.0 L205.5,274.5 L206.6,274.1 L207.6,273.7 L208.7,273.3 L209.8,272.9 L210.8,272.5 L211.9,272.1 L213.0,271.8" fill="none" stroke="#5f5775" stroke-width="1.35" stroke-linejoin="round" stroke-linecap="butt"/>
<path d="M128.0,331.0 L129.1,330.7 L130.2,330.3 L131.2,329.9 L132.3,329.5 L133.4,329.0 L134.4,328.5 L135.5,327.9 L136.5,327.3 L137.6,326.6 L138.7,325.8 L139.7,325.0 L140.8,324.1 L141.8,323.1 L142.9,322.0 L144.0,320.8 L145.0,319.5 L146.1,318.3 L147.2,317.0 L148.2,315.8 L149.3,314.7 L150.3,313.7 L151.4,312.7 L152.5,311.8 L153.5,310.8 L154.6,309.9 L155.6,308.9 L156.7,307.9 L157.8,306.8 L158.8,305.8 L159.9,304.7 L160.9,303.7 L162.0,302.6 L163.1,301.6 L164.1,300.6 L165.2,299.6 L166.3,298.6 L167.3,297.6 L168.4,296.6 L169.4,295.7 L170.5,294.7 L171.6,293.7 L172.6,292.7 L173.7,291.8 L174.7,290.8 L175.8,289.8 L176.9,288.9 L177.9,287.9 L179.0,287.0 L180.1,286.1 L181.1,285.3 L182.2,284.4 L183.2,283.6 L184.3,282.7 L185.4,281.9 L186.4,281.0 L187.5,280.2 L188.5,279.4 L189.6,278.6 L190.7,278.0 L191.7,277.4 L192.8,276.9 L193.9,276.4 L194.9,275.8 L196.0,275.3 L197.0,274.7 L198.1,274.1 L199.2,273.5 L200.2,272.9 L201.3,272.3 L202.3,271.8 L203.4,271.2 L204.5,270.8 L205.5,270.4 L206.6,270.0 L207.6,269.7 L208.7,269.4 L209.8,269.1 L210.8,268.9 L211.9,268.7 L213.0,268.5" fill="none" stroke="#b43f5e" stroke-width="1.35" stroke-linejoin="round" stroke-linecap="butt"/>
<rect x="123.80" y="237.60" width="93.40" height="99.20" fill="none" stroke="#ababab" stroke-width="0.9"/>
</g>
<g>
<rect x="220.90" y="237.60" width="93.40" height="99.20" fill="#fff"/>
<line x1="225.15" y1="237.60" x2="225.15" y2="336.80" stroke="#eeeeee" stroke-width="0.9"/>
<line x1="246.37" y1="237.60" x2="246.37" y2="336.80" stroke="#eeeeee" stroke-width="0.9"/>
<line x1="267.60" y1="237.60" x2="267.60" y2="336.80" stroke="#eeeeee" stroke-width="0.9"/>
<line x1="288.83" y1="237.60" x2="288.83" y2="336.80" stroke="#eeeeee" stroke-width="0.9"/>
<line x1="310.05" y1="237.60" x2="310.05" y2="336.80" stroke="#eeeeee" stroke-width="0.9"/>
<line x1="220.90" y1="331.00" x2="314.30" y2="331.00" stroke="#eeeeee" stroke-width="0.9"/>
<line x1="220.90" y1="305.20" x2="314.30" y2="305.20" stroke="#eeeeee" stroke-width="0.9"/>
<line x1="220.90" y1="279.40" x2="314.30" y2="279.40" stroke="#eeeeee" stroke-width="0.9"/>
<line x1="220.90" y1="253.60" x2="314.30" y2="253.60" stroke="#eeeeee" stroke-width="0.9"/>
<line x1="220.90" y1="331.00" x2="314.30" y2="331.00" stroke="#555555" stroke-width="1.3" stroke-dasharray="3.1 2.47" stroke-dashoffset="-0.6"/>
<path d="M225.1,331.0 L226.2,330.1 L227.3,329.2 L228.3,328.3 L229.4,327.4 L230.5,326.4 L231.5,325.4 L232.6,324.4 L233.6,323.3 L234.7,322.0 L235.8,320.7 L236.8,319.3 L237.9,318.2 L238.9,317.3 L240.0,316.7 L241.1,316.2 L242.1,315.6 L243.2,315.1 L244.2,314.6 L245.3,314.1 L246.4,313.6 L247.4,313.1 L248.5,312.6 L249.6,311.9 L250.6,311.0 L251.7,310.0 L252.7,308.9 L253.8,307.7 L254.9,306.5 L255.9,305.4 L257.0,304.3 L258.0,303.2 L259.1,302.1 L260.2,301.0 L261.2,299.9 L262.3,298.8 L263.4,297.8 L264.4,297.0 L265.5,296.2 L266.5,295.4 L267.6,294.7 L268.7,293.9 L269.7,293.2 L270.8,292.4 L271.8,291.8 L272.9,291.1 L274.0,290.5 L275.0,289.9 L276.1,289.4 L277.2,288.9 L278.2,288.4 L279.3,288.0 L280.3,287.4 L281.4,286.9 L282.5,286.3 L283.5,285.7 L284.6,285.0 L285.6,284.4 L286.7,283.8 L287.8,283.2 L288.8,282.6 L289.9,282.0 L290.9,281.4 L292.0,280.8 L293.1,280.2 L294.1,279.7 L295.2,279.2 L296.3,278.8 L297.3,278.4 L298.4,278.1 L299.4,277.9 L300.5,277.6 L301.6,277.4 L302.6,277.1 L303.7,276.9 L304.7,276.6 L305.8,276.3 L306.9,276.0 L307.9,275.6 L309.0,275.3 L310.1,275.0" fill="none" stroke="#16585d" stroke-width="1.35" stroke-linejoin="round" stroke-linecap="butt"/>
<path d="M225.1,331.0 L226.2,330.4 L227.3,329.8 L228.3,329.2 L229.4,328.5 L230.5,327.9 L231.5,327.2 L232.6,326.6 L233.6,325.9 L234.7,325.2 L235.8,324.5 L236.8,323.8 L237.9,323.0 L238.9,322.2 L240.0,321.4 L241.1,320.5 L242.1,319.6 L243.2,318.8 L244.2,317.9 L245.3,317.1 L246.4,316.2 L247.4,315.4 L248.5,314.5 L249.6,313.7 L250.6,312.9 L251.7,312.2 L252.7,311.4 L253.8,310.7 L254.9,310.0 L255.9,309.3 L257.0,308.6 L258.0,307.9 L259.1,307.2 L260.2,306.5 L261.2,305.8 L262.3,305.0 L263.4,304.0 L264.4,302.9 L265.5,301.9 L266.5,301.1 L267.6,300.3 L268.7,299.6 L269.7,299.0 L270.8,298.4 L271.8,297.8 L272.9,297.3 L274.0,296.9 L275.0,296.5 L276.1,296.2 L277.2,296.0 L278.2,295.7 L279.3,295.4 L280.3,295.1 L281.4,294.7 L282.5,294.3 L283.5,293.8 L284.6,293.3 L285.6,292.9 L286.7,292.4 L287.8,292.0 L288.8,291.5 L289.9,291.1 L290.9,290.8 L292.0,290.4 L293.1,290.0 L294.1,289.7 L295.2,289.3 L296.3,289.0 L297.3,288.6 L298.4,288.3 L299.4,288.0 L300.5,287.7 L301.6,287.4 L302.6,287.2 L303.7,286.9 L304.7,286.6 L305.8,286.4 L306.9,286.1 L307.9,285.9 L309.0,285.7 L310.1,285.5" fill="none" stroke="#b87233" stroke-width="1.35" stroke-linejoin="round" stroke-linecap="butt"/>
<path d="M225.1,331.0 L226.2,330.5 L227.3,329.9 L228.3,329.3 L229.4,328.7 L230.5,328.1 L231.5,327.5 L232.6,326.8 L233.6,326.1 L234.7,325.4 L235.8,324.7 L236.8,324.0 L237.9,323.3 L238.9,322.5 L240.0,321.7 L241.1,320.9 L242.1,320.0 L243.2,319.2 L244.2,318.4 L245.3,317.6 L246.4,316.9 L247.4,316.1 L248.5,315.4 L249.6,314.6 L250.6,313.9 L251.7,313.1 L252.7,312.3 L253.8,311.6 L254.9,310.8 L255.9,310.1 L257.0,309.4 L258.0,308.7 L259.1,308.1 L260.2,307.4 L261.2,306.8 L262.3,306.1 L263.4,305.2 L264.4,304.1 L265.5,303.3 L266.5,302.6 L267.6,302.0 L268.7,301.5 L269.7,300.9 L270.8,300.4 L271.8,299.9 L272.9,299.5 L274.0,299.0 L275.0,298.6 L276.1,298.2 L277.2,297.8 L278.2,297.4 L279.3,297.0 L280.3,296.6 L281.4,296.1 L282.5,295.6 L283.5,295.0 L284.6,294.4 L285.6,293.7 L286.7,293.1 L287.8,292.5 L288.8,292.0 L289.9,291.6 L290.9,291.2 L292.0,290.9 L293.1,290.5 L294.1,290.2 L295.2,289.8 L296.3,289.5 L297.3,289.2 L298.4,288.8 L299.4,288.5 L300.5,288.2 L301.6,287.9 L302.6,287.6 L303.7,287.3 L304.7,287.0 L305.8,286.7 L306.9,286.4 L307.9,286.1 L309.0,285.8 L310.1,285.5" fill="none" stroke="#5f5775" stroke-width="1.35" stroke-linejoin="round" stroke-linecap="butt"/>
<path d="M225.1,331.0 L226.2,330.6 L227.3,330.1 L228.3,329.7 L229.4,329.2 L230.5,328.7 L231.5,328.1 L232.6,327.5 L233.6,326.8 L234.7,326.1 L235.8,325.4 L236.8,324.6 L237.9,323.9 L238.9,323.2 L240.0,322.6 L241.1,322.0 L242.1,321.3 L243.2,320.7 L244.2,320.1 L245.3,319.4 L246.4,318.8 L247.4,318.2 L248.5,317.5 L249.6,316.9 L250.6,316.2 L251.7,315.5 L252.7,314.7 L253.8,313.9 L254.9,313.1 L255.9,312.4 L257.0,311.7 L258.0,311.1 L259.1,310.4 L260.2,309.8 L261.2,309.1 L262.3,308.4 L263.4,307.6 L264.4,306.8 L265.5,306.0 L266.5,305.2 L267.6,304.5 L268.7,303.8 L269.7,303.1 L270.8,302.4 L271.8,301.8 L272.9,301.1 L274.0,300.5 L275.0,299.9 L276.1,299.4 L277.2,298.8 L278.2,298.3 L279.3,297.8 L280.3,297.3 L281.4,296.8 L282.5,296.3 L283.5,295.9 L284.6,295.4 L285.6,294.9 L286.7,294.5 L287.8,294.1 L288.8,293.7 L289.9,293.3 L290.9,293.0 L292.0,292.6 L293.1,292.3 L294.1,291.9 L295.2,291.6 L296.3,291.3 L297.3,290.9 L298.4,290.6 L299.4,290.2 L300.5,289.9 L301.6,289.5 L302.6,289.2 L303.7,288.8 L304.7,288.4 L305.8,288.1 L306.9,287.7 L307.9,287.4 L309.0,287.0 L310.1,286.6" fill="none" stroke="#b43f5e" stroke-width="1.35" stroke-linejoin="round" stroke-linecap="butt"/>
<rect x="220.90" y="237.60" width="93.40" height="99.20" fill="none" stroke="#ababab" stroke-width="0.9"/>
</g>
<g>
<rect x="318.00" y="237.60" width="93.40" height="99.20" fill="#fff"/>
<line x1="322.25" y1="237.60" x2="322.25" y2="336.80" stroke="#eeeeee" stroke-width="0.9"/>
<line x1="343.47" y1="237.60" x2="343.47" y2="336.80" stroke="#eeeeee" stroke-width="0.9"/>
<line x1="364.70" y1="237.60" x2="364.70" y2="336.80" stroke="#eeeeee" stroke-width="0.9"/>
<line x1="385.93" y1="237.60" x2="385.93" y2="336.80" stroke="#eeeeee" stroke-width="0.9"/>
<line x1="407.15" y1="237.60" x2="407.15" y2="336.80" stroke="#eeeeee" stroke-width="0.9"/>
<line x1="318.00" y1="331.00" x2="411.40" y2="331.00" stroke="#eeeeee" stroke-width="0.9"/>
<line x1="318.00" y1="305.20" x2="411.40" y2="305.20" stroke="#eeeeee" stroke-width="0.9"/>
<line x1="318.00" y1="279.40" x2="411.40" y2="279.40" stroke="#eeeeee" stroke-width="0.9"/>
<line x1="318.00" y1="253.60" x2="411.40" y2="253.60" stroke="#eeeeee" stroke-width="0.9"/>
<line x1="318.00" y1="331.00" x2="411.40" y2="331.00" stroke="#555555" stroke-width="1.3" stroke-dasharray="3.1 2.47" stroke-dashoffset="-0.6"/>
<path d="M322.2,331.0 L323.3,330.0 L324.4,329.0 L325.4,328.0 L326.5,327.0 L327.6,326.0 L328.6,325.0 L329.7,324.0 L330.7,322.9 L331.8,321.9 L332.9,320.9 L333.9,320.0 L335.0,319.2 L336.0,318.6 L337.1,318.1 L338.2,317.5 L339.2,316.8 L340.3,316.1 L341.3,315.4 L342.4,314.7 L343.5,313.9 L344.5,313.2 L345.6,312.4 L346.7,311.6 L347.7,310.8 L348.8,309.9 L349.8,309.1 L350.9,308.3 L352.0,307.5 L353.0,306.7 L354.1,306.1 L355.1,305.7 L356.2,305.3 L357.3,304.9 L358.3,304.7 L359.4,304.5 L360.5,304.4 L361.5,304.2 L362.6,303.8 L363.6,303.3 L364.7,302.7 L365.8,302.1 L366.8,301.5 L367.9,300.9 L368.9,300.3 L370.0,299.8 L371.1,299.2 L372.1,298.7 L373.2,298.2 L374.3,297.6 L375.3,297.1 L376.4,296.6 L377.4,296.1 L378.5,295.7 L379.6,295.3 L380.6,295.0 L381.7,294.7 L382.7,294.4 L383.8,294.0 L384.9,293.6 L385.9,293.1 L387.0,292.5 L388.0,291.8 L389.1,291.2 L390.2,290.8 L391.2,290.5 L392.3,290.4 L393.4,290.3 L394.4,290.3 L395.5,290.2 L396.5,290.1 L397.6,290.0 L398.7,290.0 L399.7,289.9 L400.8,289.8 L401.8,289.8 L402.9,289.7 L404.0,289.6 L405.0,289.5 L406.1,289.5 L407.2,289.4" fill="none" stroke="#16585d" stroke-width="1.35" stroke-linejoin="round" stroke-linecap="butt"/>
<path d="M322.2,331.0 L323.3,331.1 L324.4,331.1 L325.4,331.1 L326.5,330.9 L327.6,330.5 L328.6,330.0 L329.7,329.5 L330.7,328.9 L331.8,328.2 L332.9,327.5 L333.9,326.7 L335.0,325.9 L336.0,325.0 L337.1,324.1 L338.2,323.3 L339.2,322.5 L340.3,321.8 L341.3,321.1 L342.4,320.4 L343.5,319.7 L344.5,319.0 L345.6,318.4 L346.7,317.8 L347.7,317.1 L348.8,316.5 L349.8,315.9 L350.9,315.2 L352.0,314.6 L353.0,314.0 L354.1,313.4 L355.1,312.7 L356.2,312.1 L357.3,311.5 L358.3,310.9 L359.4,310.3 L360.5,309.6 L361.5,309.0 L362.6,308.4 L363.6,307.8 L364.7,307.3 L365.8,306.9 L366.8,306.6 L367.9,306.3 L368.9,306.1 L370.0,305.7 L371.1,305.3 L372.1,304.9 L373.2,304.4 L374.3,304.0 L375.3,303.6 L376.4,303.1 L377.4,302.6 L378.5,302.1 L379.6,301.6 L380.6,301.1 L381.7,300.5 L382.7,300.0 L383.8,299.5 L384.9,299.0 L385.9,298.6 L387.0,298.2 L388.0,297.8 L389.1,297.5 L390.2,297.2 L391.2,296.9 L392.3,296.6 L393.4,296.3 L394.4,296.0 L395.5,295.8 L396.5,295.5 L397.6,295.3 L398.7,295.0 L399.7,294.7 L400.8,294.3 L401.8,294.0 L402.9,293.6 L404.0,293.2 L405.0,292.8 L406.1,292.4 L407.2,292.0" fill="none" stroke="#b87233" stroke-width="1.35" stroke-linejoin="round" stroke-linecap="butt"/>
<path d="M322.2,331.0 L323.3,331.1 L324.4,331.1 L325.4,331.0 L326.5,330.8 L327.6,330.5 L328.6,330.0 L329.7,329.5 L330.7,329.0 L331.8,328.4 L332.9,327.7 L333.9,326.9 L335.0,326.1 L336.0,325.2 L337.1,324.3 L338.2,323.5 L339.2,322.8 L340.3,322.0 L341.3,321.3 L342.4,320.6 L343.5,319.9 L344.5,319.3 L345.6,318.7 L346.7,318.2 L347.7,317.7 L348.8,317.1 L349.8,316.6 L350.9,316.1 L352.0,315.6 L353.0,315.0 L354.1,314.4 L355.1,313.7 L356.2,313.1 L357.3,312.5 L358.3,311.9 L359.4,311.4 L360.5,311.0 L361.5,310.6 L362.6,310.2 L363.6,309.8 L364.7,309.5 L365.8,309.1 L366.8,308.8 L367.9,308.4 L368.9,308.1 L370.0,307.8 L371.1,307.4 L372.1,307.1 L373.2,306.7 L374.3,306.3 L375.3,305.9 L376.4,305.5 L377.4,305.0 L378.5,304.6 L379.6,304.2 L380.6,303.8 L381.7,303.5 L382.7,303.2 L383.8,302.9 L384.9,302.6 L385.9,302.1 L387.0,301.5 L388.0,300.9 L389.1,300.4 L390.2,299.8 L391.2,299.3 L392.3,298.9 L393.4,298.5 L394.4,298.1 L395.5,297.7 L396.5,297.4 L397.6,297.1 L398.7,296.8 L399.7,296.5 L400.8,296.3 L401.8,296.1 L402.9,295.9 L404.0,295.7 L405.0,295.6 L406.1,295.5 L407.2,295.4" fill="none" stroke="#5f5775" stroke-width="1.35" stroke-linejoin="round" stroke-linecap="butt"/>
<path d="M322.2,331.0 L323.3,331.1 L324.4,331.1 L325.4,331.0 L326.5,330.8 L327.6,330.5 L328.6,330.1 L329.7,329.6 L330.7,329.1 L331.8,328.5 L332.9,327.8 L333.9,327.0 L335.0,326.2 L336.0,325.4 L337.1,324.5 L338.2,323.7 L339.2,322.9 L340.3,322.1 L341.3,321.4 L342.4,320.7 L343.5,320.0 L344.5,319.4 L345.6,318.9 L346.7,318.4 L347.7,318.0 L348.8,317.6 L349.8,317.3 L350.9,316.9 L352.0,316.4 L353.0,315.9 L354.1,315.3 L355.1,314.6 L356.2,313.9 L357.3,313.3 L358.3,312.7 L359.4,312.1 L360.5,311.6 L361.5,311.1 L362.6,310.7 L363.6,310.3 L364.7,309.9 L365.8,309.5 L366.8,309.2 L367.9,308.8 L368.9,308.5 L370.0,308.1 L371.1,307.8 L372.1,307.4 L373.2,307.0 L374.3,306.7 L375.3,306.3 L376.4,306.0 L377.4,305.6 L378.5,305.2 L379.6,304.9 L380.6,304.5 L381.7,304.3 L382.7,304.2 L383.8,304.1 L384.9,303.8 L385.9,303.3 L387.0,302.7 L388.0,302.0 L389.1,301.3 L390.2,300.8 L391.2,300.4 L392.3,300.3 L393.4,300.2 L394.4,300.1 L395.5,300.1 L396.5,300.0 L397.6,299.9 L398.7,299.8 L399.7,299.6 L400.8,299.5 L401.8,299.3 L402.9,299.2 L404.0,299.0 L405.0,298.9 L406.1,298.7 L407.2,298.5" fill="none" stroke="#b43f5e" stroke-width="1.35" stroke-linejoin="round" stroke-linecap="butt"/>
<rect x="318.00" y="237.60" width="93.40" height="99.20" fill="none" stroke="#ababab" stroke-width="0.9"/>
</g>
<g>
<rect x="415.10" y="237.60" width="93.40" height="99.20" fill="#fff"/>
<line x1="419.35" y1="237.60" x2="419.35" y2="336.80" stroke="#eeeeee" stroke-width="0.9"/>
<line x1="440.57" y1="237.60" x2="440.57" y2="336.80" stroke="#eeeeee" stroke-width="0.9"/>
<line x1="461.80" y1="237.60" x2="461.80" y2="336.80" stroke="#eeeeee" stroke-width="0.9"/>
<line x1="483.03" y1="237.60" x2="483.03" y2="336.80" stroke="#eeeeee" stroke-width="0.9"/>
<line x1="504.25" y1="237.60" x2="504.25" y2="336.80" stroke="#eeeeee" stroke-width="0.9"/>
<line x1="415.10" y1="331.00" x2="508.50" y2="331.00" stroke="#eeeeee" stroke-width="0.9"/>
<line x1="415.10" y1="305.20" x2="508.50" y2="305.20" stroke="#eeeeee" stroke-width="0.9"/>
<line x1="415.10" y1="279.40" x2="508.50" y2="279.40" stroke="#eeeeee" stroke-width="0.9"/>
<line x1="415.10" y1="253.60" x2="508.50" y2="253.60" stroke="#eeeeee" stroke-width="0.9"/>
<line x1="415.10" y1="331.00" x2="508.50" y2="331.00" stroke="#555555" stroke-width="1.3" stroke-dasharray="3.1 2.47" stroke-dashoffset="-0.6"/>
<path d="M419.3,331.0 L420.4,330.3 L421.5,329.6 L422.5,328.8 L423.6,327.9 L424.7,327.0 L425.7,326.0 L426.8,324.9 L427.8,323.7 L428.9,322.5 L430.0,321.2 L431.0,320.1 L432.1,319.1 L433.1,318.1 L434.2,317.2 L435.3,316.2 L436.3,315.3 L437.4,314.4 L438.4,313.5 L439.5,312.7 L440.6,311.8 L441.6,311.0 L442.7,310.3 L443.8,309.8 L444.8,309.2 L445.9,308.7 L446.9,308.1 L448.0,307.6 L449.1,307.1 L450.1,306.6 L451.2,306.1 L452.2,305.6 L453.3,305.1 L454.4,304.6 L455.4,304.1 L456.5,303.7 L457.6,303.2 L458.6,302.8 L459.7,302.4 L460.7,302.0 L461.8,301.7 L462.9,301.3 L463.9,301.0 L465.0,300.7 L466.0,300.4 L467.1,300.1 L468.2,299.9 L469.2,299.7 L470.3,299.5 L471.4,299.2 L472.4,298.9 L473.5,298.5 L474.5,298.0 L475.6,297.4 L476.7,296.8 L477.7,296.1 L478.8,295.4 L479.8,294.8 L480.9,294.2 L482.0,293.6 L483.0,293.0 L484.1,292.5 L485.1,292.0 L486.2,291.6 L487.3,291.4 L488.3,291.2 L489.4,290.9 L490.5,290.6 L491.5,290.3 L492.6,290.0 L493.6,289.6 L494.7,289.3 L495.8,288.9 L496.8,288.6 L497.9,288.2 L498.9,287.8 L500.0,287.3 L501.1,286.9 L502.1,286.4 L503.2,286.0 L504.3,285.5" fill="none" stroke="#16585d" stroke-width="1.35" stroke-linejoin="round" stroke-linecap="butt"/>
<path d="M419.3,331.0 L420.4,330.7 L421.5,330.5 L422.5,330.2 L423.6,329.8 L424.7,329.4 L425.7,328.9 L426.8,328.4 L427.8,327.9 L428.9,327.4 L430.0,326.8 L431.0,326.2 L432.1,325.6 L433.1,325.0 L434.2,324.4 L435.3,323.8 L436.3,323.2 L437.4,322.5 L438.4,321.9 L439.5,321.2 L440.6,320.5 L441.6,319.8 L442.7,319.1 L443.8,318.3 L444.8,317.5 L445.9,316.7 L446.9,315.9 L448.0,315.2 L449.1,314.6 L450.1,314.1 L451.2,313.7 L452.2,313.3 L453.3,313.0 L454.4,312.6 L455.4,312.3 L456.5,311.9 L457.6,311.6 L458.6,311.2 L459.7,310.9 L460.7,310.6 L461.8,310.2 L462.9,309.9 L463.9,309.5 L465.0,309.2 L466.0,308.8 L467.1,308.4 L468.2,307.9 L469.2,307.4 L470.3,306.9 L471.4,306.5 L472.4,306.0 L473.5,305.6 L474.5,305.3 L475.6,304.9 L476.7,304.6 L477.7,304.2 L478.8,303.8 L479.8,303.5 L480.9,303.2 L482.0,302.8 L483.0,302.5 L484.1,302.2 L485.1,301.9 L486.2,301.5 L487.3,301.1 L488.3,300.6 L489.4,300.1 L490.5,299.6 L491.5,299.0 L492.6,298.5 L493.6,298.0 L494.7,297.4 L495.8,296.9 L496.8,296.3 L497.9,295.8 L498.9,295.4 L500.0,295.0 L501.1,294.6 L502.1,294.2 L503.2,293.9 L504.3,293.6" fill="none" stroke="#b87233" stroke-width="1.35" stroke-linejoin="round" stroke-linecap="butt"/>
<path d="M419.3,331.0 L420.4,330.8 L421.5,330.5 L422.5,330.2 L423.6,329.9 L424.7,329.5 L425.7,329.2 L426.8,328.8 L427.8,328.5 L428.9,328.1 L430.0,327.6 L431.0,327.1 L432.1,326.5 L433.1,325.9 L434.2,325.3 L435.3,324.7 L436.3,324.0 L437.4,323.4 L438.4,322.8 L439.5,322.2 L440.6,321.5 L441.6,320.9 L442.7,320.3 L443.8,319.6 L444.8,319.0 L445.9,318.4 L446.9,317.9 L448.0,317.3 L449.1,316.7 L450.1,316.1 L451.2,315.5 L452.2,314.9 L453.3,314.4 L454.4,313.9 L455.4,313.4 L456.5,313.1 L457.6,312.8 L458.6,312.5 L459.7,312.2 L460.7,311.9 L461.8,311.6 L462.9,311.3 L463.9,311.0 L465.0,310.7 L466.0,310.4 L467.1,310.2 L468.2,309.9 L469.2,309.6 L470.3,309.3 L471.4,309.0 L472.4,308.7 L473.5,308.4 L474.5,308.1 L475.6,307.7 L476.7,307.3 L477.7,306.9 L478.8,306.5 L479.8,306.2 L480.9,305.9 L482.0,305.6 L483.0,305.3 L484.1,305.0 L485.1,304.7 L486.2,304.4 L487.3,304.2 L488.3,303.9 L489.4,303.7 L490.5,303.4 L491.5,303.1 L492.6,302.9 L493.6,302.6 L494.7,302.4 L495.8,302.1 L496.8,301.8 L497.9,301.5 L498.9,301.2 L500.0,301.0 L501.1,300.7 L502.1,300.4 L503.2,300.1 L504.3,299.8" fill="none" stroke="#5f5775" stroke-width="1.35" stroke-linejoin="round" stroke-linecap="butt"/>
<path d="M419.3,331.0 L420.4,330.7 L421.5,330.5 L422.5,330.2 L423.6,329.9 L424.7,329.5 L425.7,329.2 L426.8,328.9 L427.8,328.5 L428.9,328.1 L430.0,327.7 L431.0,327.2 L432.1,326.6 L433.1,326.0 L434.2,325.4 L435.3,324.8 L436.3,324.2 L437.4,323.6 L438.4,323.0 L439.5,322.3 L440.6,321.7 L441.6,321.1 L442.7,320.5 L443.8,319.8 L444.8,319.3 L445.9,318.7 L446.9,318.1 L448.0,317.5 L449.1,317.0 L450.1,316.4 L451.2,315.8 L452.2,315.2 L453.3,314.7 L454.4,314.2 L455.4,313.7 L456.5,313.3 L457.6,313.0 L458.6,312.7 L459.7,312.4 L460.7,312.1 L461.8,311.9 L462.9,311.6 L463.9,311.3 L465.0,311.0 L466.0,310.7 L467.1,310.4 L468.2,310.1 L469.2,309.8 L470.3,309.5 L471.4,309.2 L472.4,308.9 L473.5,308.6 L474.5,308.3 L475.6,308.0 L476.7,307.6 L477.7,307.2 L478.8,306.8 L479.8,306.5 L480.9,306.2 L482.0,305.9 L483.0,305.6 L484.1,305.3 L485.1,305.0 L486.2,304.7 L487.3,304.5 L488.3,304.2 L489.4,304.0 L490.5,303.7 L491.5,303.5 L492.6,303.2 L493.6,303.0 L494.7,302.7 L495.8,302.5 L496.8,302.2 L497.9,302.0 L498.9,301.7 L500.0,301.4 L501.1,301.2 L502.1,300.9 L503.2,300.7 L504.3,300.4" fill="none" stroke="#b43f5e" stroke-width="1.35" stroke-linejoin="round" stroke-linecap="butt"/>
<rect x="415.10" y="237.60" width="93.40" height="99.20" fill="none" stroke="#ababab" stroke-width="0.9"/>
</g>
<line x1="25.0" y1="124.60" x2="26.70" y2="124.60" stroke="#555" stroke-width="0.8"/>
<text x="23.40" y="127.50" font-size="6.31" fill="#555555" text-anchor="end" textLength="13.25" lengthAdjust="spacingAndGlyphs">0.00</text>
<line x1="25.0" y1="98.80" x2="26.70" y2="98.80" stroke="#555" stroke-width="0.8"/>
<text x="23.40" y="101.70" font-size="6.31" fill="#555555" text-anchor="end" textLength="13.25" lengthAdjust="spacingAndGlyphs">0.05</text>
<line x1="25.0" y1="73.00" x2="26.70" y2="73.00" stroke="#555" stroke-width="0.8"/>
<text x="23.40" y="75.90" font-size="6.31" fill="#555555" text-anchor="end" textLength="13.25" lengthAdjust="spacingAndGlyphs">0.10</text>
<line x1="25.0" y1="47.20" x2="26.70" y2="47.20" stroke="#555" stroke-width="0.8"/>
<text x="23.40" y="50.10" font-size="6.31" fill="#555555" text-anchor="end" textLength="13.25" lengthAdjust="spacingAndGlyphs">0.15</text>
<line x1="25.0" y1="227.80" x2="26.70" y2="227.80" stroke="#555" stroke-width="0.8"/>
<text x="23.40" y="230.70" font-size="6.31" fill="#555555" text-anchor="end" textLength="13.25" lengthAdjust="spacingAndGlyphs">0.00</text>
<line x1="25.0" y1="202.00" x2="26.70" y2="202.00" stroke="#555" stroke-width="0.8"/>
<text x="23.40" y="204.90" font-size="6.31" fill="#555555" text-anchor="end" textLength="13.25" lengthAdjust="spacingAndGlyphs">0.05</text>
<line x1="25.0" y1="176.20" x2="26.70" y2="176.20" stroke="#555" stroke-width="0.8"/>
<text x="23.40" y="179.10" font-size="6.31" fill="#555555" text-anchor="end" textLength="13.25" lengthAdjust="spacingAndGlyphs">0.10</text>
<line x1="25.0" y1="150.40" x2="26.70" y2="150.40" stroke="#555" stroke-width="0.8"/>
<text x="23.40" y="153.30" font-size="6.31" fill="#555555" text-anchor="end" textLength="13.25" lengthAdjust="spacingAndGlyphs">0.15</text>
<line x1="25.0" y1="331.00" x2="26.70" y2="331.00" stroke="#555" stroke-width="0.8"/>
<text x="23.40" y="333.90" font-size="6.31" fill="#555555" text-anchor="end" textLength="13.25" lengthAdjust="spacingAndGlyphs">0.00</text>
<line x1="25.0" y1="305.20" x2="26.70" y2="305.20" stroke="#555" stroke-width="0.8"/>
<text x="23.40" y="308.10" font-size="6.31" fill="#555555" text-anchor="end" textLength="13.25" lengthAdjust="spacingAndGlyphs">0.05</text>
<line x1="25.0" y1="279.40" x2="26.70" y2="279.40" stroke="#555" stroke-width="0.8"/>
<text x="23.40" y="282.30" font-size="6.31" fill="#555555" text-anchor="end" textLength="13.25" lengthAdjust="spacingAndGlyphs">0.10</text>
<line x1="25.0" y1="253.60" x2="26.70" y2="253.60" stroke="#555" stroke-width="0.8"/>
<text x="23.40" y="256.50" font-size="6.31" fill="#555555" text-anchor="end" textLength="13.25" lengthAdjust="spacingAndGlyphs">0.15</text>
<line x1="30.95" y1="336.80" x2="30.95" y2="338.50" stroke="#555" stroke-width="0.8"/>
<text x="30.95" y="344.70" font-size="6.31" fill="#555555" text-anchor="middle" textLength="3.79" lengthAdjust="spacingAndGlyphs">0</text>
<line x1="52.17" y1="336.80" x2="52.17" y2="338.50" stroke="#555" stroke-width="0.8"/>
<text x="52.17" y="344.70" font-size="6.31" fill="#555555" text-anchor="middle" textLength="7.57" lengthAdjust="spacingAndGlyphs">10</text>
<line x1="73.40" y1="336.80" x2="73.40" y2="338.50" stroke="#555" stroke-width="0.8"/>
<text x="73.40" y="344.70" font-size="6.31" fill="#555555" text-anchor="middle" textLength="7.57" lengthAdjust="spacingAndGlyphs">20</text>
<line x1="94.63" y1="336.80" x2="94.63" y2="338.50" stroke="#555" stroke-width="0.8"/>
<text x="94.63" y="344.70" font-size="6.31" fill="#555555" text-anchor="middle" textLength="7.57" lengthAdjust="spacingAndGlyphs">30</text>
<line x1="115.85" y1="336.80" x2="115.85" y2="338.50" stroke="#555" stroke-width="0.8"/>
<text x="115.85" y="344.70" font-size="6.31" fill="#555555" text-anchor="middle" textLength="7.57" lengthAdjust="spacingAndGlyphs">40</text>
<line x1="128.05" y1="336.80" x2="128.05" y2="338.50" stroke="#555" stroke-width="0.8"/>
<text x="128.05" y="344.70" font-size="6.31" fill="#555555" text-anchor="middle" textLength="3.79" lengthAdjust="spacingAndGlyphs">0</text>
<line x1="149.27" y1="336.80" x2="149.27" y2="338.50" stroke="#555" stroke-width="0.8"/>
<text x="149.27" y="344.70" font-size="6.31" fill="#555555" text-anchor="middle" textLength="7.57" lengthAdjust="spacingAndGlyphs">10</text>
<line x1="170.50" y1="336.80" x2="170.50" y2="338.50" stroke="#555" stroke-width="0.8"/>
<text x="170.50" y="344.70" font-size="6.31" fill="#555555" text-anchor="middle" textLength="7.57" lengthAdjust="spacingAndGlyphs">20</text>
<line x1="191.73" y1="336.80" x2="191.73" y2="338.50" stroke="#555" stroke-width="0.8"/>
<text x="191.73" y="344.70" font-size="6.31" fill="#555555" text-anchor="middle" textLength="7.57" lengthAdjust="spacingAndGlyphs">30</text>
<line x1="212.95" y1="336.80" x2="212.95" y2="338.50" stroke="#555" stroke-width="0.8"/>
<text x="212.95" y="344.70" font-size="6.31" fill="#555555" text-anchor="middle" textLength="7.57" lengthAdjust="spacingAndGlyphs">40</text>
<line x1="225.15" y1="336.80" x2="225.15" y2="338.50" stroke="#555" stroke-width="0.8"/>
<text x="225.15" y="344.70" font-size="6.31" fill="#555555" text-anchor="middle" textLength="3.79" lengthAdjust="spacingAndGlyphs">0</text>
<line x1="246.37" y1="336.80" x2="246.37" y2="338.50" stroke="#555" stroke-width="0.8"/>
<text x="246.37" y="344.70" font-size="6.31" fill="#555555" text-anchor="middle" textLength="7.57" lengthAdjust="spacingAndGlyphs">10</text>
<line x1="267.60" y1="336.80" x2="267.60" y2="338.50" stroke="#555" stroke-width="0.8"/>
<text x="267.60" y="344.70" font-size="6.31" fill="#555555" text-anchor="middle" textLength="7.57" lengthAdjust="spacingAndGlyphs">20</text>
<line x1="288.83" y1="336.80" x2="288.83" y2="338.50" stroke="#555" stroke-width="0.8"/>
<text x="288.83" y="344.70" font-size="6.31" fill="#555555" text-anchor="middle" textLength="7.57" lengthAdjust="spacingAndGlyphs">30</text>
<line x1="310.05" y1="336.80" x2="310.05" y2="338.50" stroke="#555" stroke-width="0.8"/>
<text x="310.05" y="344.70" font-size="6.31" fill="#555555" text-anchor="middle" textLength="7.57" lengthAdjust="spacingAndGlyphs">40</text>
<line x1="322.25" y1="336.80" x2="322.25" y2="338.50" stroke="#555" stroke-width="0.8"/>
<text x="322.25" y="344.70" font-size="6.31" fill="#555555" text-anchor="middle" textLength="3.79" lengthAdjust="spacingAndGlyphs">0</text>
<line x1="343.47" y1="336.80" x2="343.47" y2="338.50" stroke="#555" stroke-width="0.8"/>
<text x="343.47" y="344.70" font-size="6.31" fill="#555555" text-anchor="middle" textLength="7.57" lengthAdjust="spacingAndGlyphs">10</text>
<line x1="364.70" y1="336.80" x2="364.70" y2="338.50" stroke="#555" stroke-width="0.8"/>
<text x="364.70" y="344.70" font-size="6.31" fill="#555555" text-anchor="middle" textLength="7.57" lengthAdjust="spacingAndGlyphs">20</text>
<line x1="385.93" y1="336.80" x2="385.93" y2="338.50" stroke="#555" stroke-width="0.8"/>
<text x="385.93" y="344.70" font-size="6.31" fill="#555555" text-anchor="middle" textLength="7.57" lengthAdjust="spacingAndGlyphs">30</text>
<line x1="407.15" y1="336.80" x2="407.15" y2="338.50" stroke="#555" stroke-width="0.8"/>
<text x="407.15" y="344.70" font-size="6.31" fill="#555555" text-anchor="middle" textLength="7.57" lengthAdjust="spacingAndGlyphs">40</text>
<line x1="419.35" y1="336.80" x2="419.35" y2="338.50" stroke="#555" stroke-width="0.8"/>
<text x="419.35" y="344.70" font-size="6.31" fill="#555555" text-anchor="middle" textLength="3.79" lengthAdjust="spacingAndGlyphs">0</text>
<line x1="440.57" y1="336.80" x2="440.57" y2="338.50" stroke="#555" stroke-width="0.8"/>
<text x="440.57" y="344.70" font-size="6.31" fill="#555555" text-anchor="middle" textLength="7.57" lengthAdjust="spacingAndGlyphs">10</text>
<line x1="461.80" y1="336.80" x2="461.80" y2="338.50" stroke="#555" stroke-width="0.8"/>
<text x="461.80" y="344.70" font-size="6.31" fill="#555555" text-anchor="middle" textLength="7.57" lengthAdjust="spacingAndGlyphs">20</text>
<line x1="483.03" y1="336.80" x2="483.03" y2="338.50" stroke="#555" stroke-width="0.8"/>
<text x="483.03" y="344.70" font-size="6.31" fill="#555555" text-anchor="middle" textLength="7.57" lengthAdjust="spacingAndGlyphs">30</text>
<line x1="504.25" y1="336.80" x2="504.25" y2="338.50" stroke="#555" stroke-width="0.8"/>
<text x="504.25" y="344.70" font-size="6.31" fill="#555555" text-anchor="middle" textLength="7.57" lengthAdjust="spacingAndGlyphs">40</text>
<text x="267.50" y="353.30" font-size="7.63" fill="#1a1a1a" text-anchor="middle" textLength="40.17" lengthAdjust="spacingAndGlyphs">Generation</text>
<text transform="translate(5.40,184.20) rotate(-90)" x="0" y="0" font-size="7.63" fill="#1a1a1a" text-anchor="middle" textLength="127.00" lengthAdjust="spacingAndGlyphs">ΔH (Heterozygosity; GPCP − GEBV)</text>
</g></svg></body></html>
